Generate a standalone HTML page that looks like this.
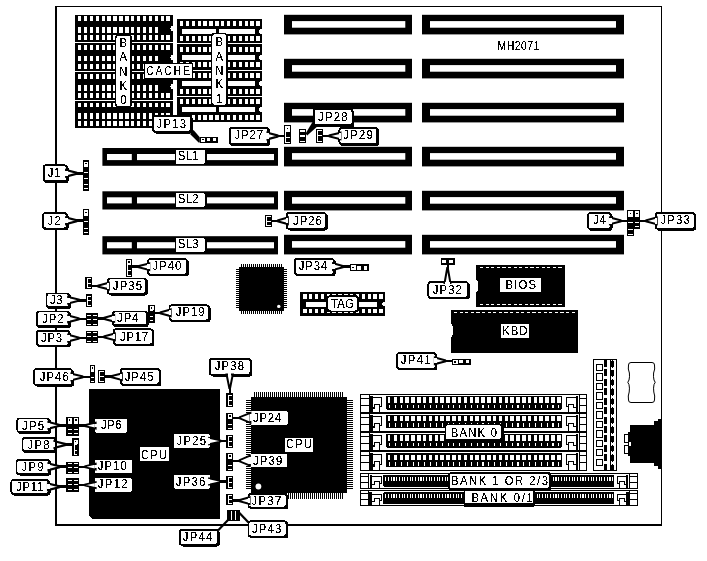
<!DOCTYPE html>
<html><head><meta charset="utf-8"><title>MH2071</title>
<style>html,body{margin:0;padding:0;background:#fff}svg{display:block}</style></head>
<body>
<svg width="707" height="561" viewBox="0 0 707 561" shape-rendering="crispEdges" font-family="'Liberation Sans', sans-serif" fill="#000">
<rect x="0.00" y="0.00" width="707.00" height="561.00" fill="#fff" />
<rect x="55.00" y="6.00" width="2.00" height="520.00" fill="#000" />
<rect x="55.00" y="6.00" width="607.00" height="1.00" fill="#000" />
<rect x="661.00" y="6.00" width="1.00" height="520.00" fill="#000" />
<rect x="55.00" y="524.00" width="607.00" height="2.00" fill="#000" />
<rect x="75.00" y="15.00" width="98.00" height="113.00" fill="#000" />
<rect x="75.00" y="42.00" width="98.00" height="1.00" fill="#fff" />
<rect x="75.00" y="71.00" width="98.00" height="1.00" fill="#fff" />
<rect x="75.00" y="100.00" width="98.00" height="1.00" fill="#fff" />
<rect x="77.90" y="16.00" width="3.40" height="5.00" fill="#fff" />
<rect x="83.80" y="16.00" width="3.40" height="5.00" fill="#fff" />
<rect x="89.70" y="16.00" width="3.40" height="5.00" fill="#fff" />
<rect x="95.60" y="16.00" width="3.40" height="5.00" fill="#fff" />
<rect x="101.50" y="16.00" width="3.40" height="5.00" fill="#fff" />
<rect x="107.40" y="16.00" width="3.40" height="5.00" fill="#fff" />
<rect x="113.30" y="16.00" width="3.40" height="5.00" fill="#fff" />
<rect x="119.20" y="16.00" width="3.40" height="5.00" fill="#fff" />
<rect x="125.10" y="16.00" width="3.40" height="5.00" fill="#fff" />
<rect x="131.00" y="16.00" width="3.40" height="5.00" fill="#fff" />
<rect x="136.90" y="16.00" width="3.40" height="5.00" fill="#fff" />
<rect x="142.80" y="16.00" width="3.40" height="5.00" fill="#fff" />
<rect x="148.70" y="16.00" width="3.40" height="5.00" fill="#fff" />
<rect x="154.60" y="16.00" width="3.40" height="5.00" fill="#fff" />
<rect x="160.50" y="16.00" width="3.40" height="5.00" fill="#fff" />
<rect x="166.40" y="16.00" width="3.40" height="5.00" fill="#fff" />
<rect x="77.90" y="27.00" width="3.40" height="5.50" fill="#fff" />
<rect x="83.80" y="27.00" width="3.40" height="5.50" fill="#fff" />
<rect x="89.70" y="27.00" width="3.40" height="5.50" fill="#fff" />
<rect x="95.60" y="27.00" width="3.40" height="5.50" fill="#fff" />
<rect x="101.50" y="27.00" width="3.40" height="5.50" fill="#fff" />
<rect x="107.40" y="27.00" width="3.40" height="5.50" fill="#fff" />
<rect x="113.30" y="27.00" width="3.40" height="5.50" fill="#fff" />
<rect x="119.20" y="27.00" width="3.40" height="5.50" fill="#fff" />
<rect x="125.10" y="27.00" width="3.40" height="5.50" fill="#fff" />
<rect x="131.00" y="27.00" width="3.40" height="5.50" fill="#fff" />
<rect x="136.90" y="27.00" width="3.40" height="5.50" fill="#fff" />
<rect x="142.80" y="27.00" width="3.40" height="5.50" fill="#fff" />
<rect x="148.70" y="27.00" width="3.40" height="5.50" fill="#fff" />
<rect x="154.60" y="27.00" width="3.40" height="5.50" fill="#fff" />
<rect x="77.90" y="35.00" width="3.40" height="5.00" fill="#fff" />
<rect x="83.80" y="35.00" width="3.40" height="5.00" fill="#fff" />
<rect x="89.70" y="35.00" width="3.40" height="5.00" fill="#fff" />
<rect x="95.60" y="35.00" width="3.40" height="5.00" fill="#fff" />
<rect x="101.50" y="35.00" width="3.40" height="5.00" fill="#fff" />
<rect x="107.40" y="35.00" width="3.40" height="5.00" fill="#fff" />
<rect x="113.30" y="35.00" width="3.40" height="5.00" fill="#fff" />
<rect x="119.20" y="35.00" width="3.40" height="5.00" fill="#fff" />
<rect x="125.10" y="35.00" width="3.40" height="5.00" fill="#fff" />
<rect x="131.00" y="35.00" width="3.40" height="5.00" fill="#fff" />
<rect x="136.90" y="35.00" width="3.40" height="5.00" fill="#fff" />
<rect x="142.80" y="35.00" width="3.40" height="5.00" fill="#fff" />
<rect x="148.70" y="35.00" width="3.40" height="5.00" fill="#fff" />
<rect x="154.60" y="35.00" width="3.40" height="5.00" fill="#fff" />
<rect x="160.50" y="35.00" width="3.40" height="5.00" fill="#fff" />
<rect x="166.40" y="35.00" width="3.40" height="5.00" fill="#fff" />
<rect x="77.90" y="45.00" width="3.40" height="5.00" fill="#fff" />
<rect x="83.80" y="45.00" width="3.40" height="5.00" fill="#fff" />
<rect x="89.70" y="45.00" width="3.40" height="5.00" fill="#fff" />
<rect x="95.60" y="45.00" width="3.40" height="5.00" fill="#fff" />
<rect x="101.50" y="45.00" width="3.40" height="5.00" fill="#fff" />
<rect x="107.40" y="45.00" width="3.40" height="5.00" fill="#fff" />
<rect x="113.30" y="45.00" width="3.40" height="5.00" fill="#fff" />
<rect x="119.20" y="45.00" width="3.40" height="5.00" fill="#fff" />
<rect x="125.10" y="45.00" width="3.40" height="5.00" fill="#fff" />
<rect x="131.00" y="45.00" width="3.40" height="5.00" fill="#fff" />
<rect x="136.90" y="45.00" width="3.40" height="5.00" fill="#fff" />
<rect x="142.80" y="45.00" width="3.40" height="5.00" fill="#fff" />
<rect x="148.70" y="45.00" width="3.40" height="5.00" fill="#fff" />
<rect x="154.60" y="45.00" width="3.40" height="5.00" fill="#fff" />
<rect x="160.50" y="45.00" width="3.40" height="5.00" fill="#fff" />
<rect x="166.40" y="45.00" width="3.40" height="5.00" fill="#fff" />
<rect x="77.90" y="56.00" width="3.40" height="5.00" fill="#fff" />
<rect x="83.80" y="56.00" width="3.40" height="5.00" fill="#fff" />
<rect x="89.70" y="56.00" width="3.40" height="5.00" fill="#fff" />
<rect x="95.60" y="56.00" width="3.40" height="5.00" fill="#fff" />
<rect x="101.50" y="56.00" width="3.40" height="5.00" fill="#fff" />
<rect x="107.40" y="56.00" width="3.40" height="5.00" fill="#fff" />
<rect x="113.30" y="56.00" width="3.40" height="5.00" fill="#fff" />
<rect x="119.20" y="56.00" width="3.40" height="5.00" fill="#fff" />
<rect x="125.10" y="56.00" width="3.40" height="5.00" fill="#fff" />
<rect x="131.00" y="56.00" width="3.40" height="5.00" fill="#fff" />
<rect x="136.90" y="56.00" width="3.40" height="5.00" fill="#fff" />
<rect x="142.80" y="56.00" width="3.40" height="5.00" fill="#fff" />
<rect x="148.70" y="56.00" width="3.40" height="5.00" fill="#fff" />
<rect x="154.60" y="56.00" width="3.40" height="5.00" fill="#fff" />
<rect x="77.90" y="64.00" width="3.40" height="5.00" fill="#fff" />
<rect x="83.80" y="64.00" width="3.40" height="5.00" fill="#fff" />
<rect x="89.70" y="64.00" width="3.40" height="5.00" fill="#fff" />
<rect x="95.60" y="64.00" width="3.40" height="5.00" fill="#fff" />
<rect x="101.50" y="64.00" width="3.40" height="5.00" fill="#fff" />
<rect x="107.40" y="64.00" width="3.40" height="5.00" fill="#fff" />
<rect x="113.30" y="64.00" width="3.40" height="5.00" fill="#fff" />
<rect x="119.20" y="64.00" width="3.40" height="5.00" fill="#fff" />
<rect x="125.10" y="64.00" width="3.40" height="5.00" fill="#fff" />
<rect x="131.00" y="64.00" width="3.40" height="5.00" fill="#fff" />
<rect x="136.90" y="64.00" width="3.40" height="5.00" fill="#fff" />
<rect x="142.80" y="64.00" width="3.40" height="5.00" fill="#fff" />
<rect x="148.70" y="64.00" width="3.40" height="5.00" fill="#fff" />
<rect x="154.60" y="64.00" width="3.40" height="5.00" fill="#fff" />
<rect x="160.50" y="64.00" width="3.40" height="5.00" fill="#fff" />
<rect x="166.40" y="64.00" width="3.40" height="5.00" fill="#fff" />
<rect x="77.90" y="74.00" width="3.40" height="5.00" fill="#fff" />
<rect x="83.80" y="74.00" width="3.40" height="5.00" fill="#fff" />
<rect x="89.70" y="74.00" width="3.40" height="5.00" fill="#fff" />
<rect x="95.60" y="74.00" width="3.40" height="5.00" fill="#fff" />
<rect x="101.50" y="74.00" width="3.40" height="5.00" fill="#fff" />
<rect x="107.40" y="74.00" width="3.40" height="5.00" fill="#fff" />
<rect x="113.30" y="74.00" width="3.40" height="5.00" fill="#fff" />
<rect x="119.20" y="74.00" width="3.40" height="5.00" fill="#fff" />
<rect x="125.10" y="74.00" width="3.40" height="5.00" fill="#fff" />
<rect x="131.00" y="74.00" width="3.40" height="5.00" fill="#fff" />
<rect x="136.90" y="74.00" width="3.40" height="5.00" fill="#fff" />
<rect x="142.80" y="74.00" width="3.40" height="5.00" fill="#fff" />
<rect x="148.70" y="74.00" width="3.40" height="5.00" fill="#fff" />
<rect x="154.60" y="74.00" width="3.40" height="5.00" fill="#fff" />
<rect x="160.50" y="74.00" width="3.40" height="5.00" fill="#fff" />
<rect x="166.40" y="74.00" width="3.40" height="5.00" fill="#fff" />
<rect x="77.90" y="85.00" width="3.40" height="5.50" fill="#fff" />
<rect x="83.80" y="85.00" width="3.40" height="5.50" fill="#fff" />
<rect x="89.70" y="85.00" width="3.40" height="5.50" fill="#fff" />
<rect x="95.60" y="85.00" width="3.40" height="5.50" fill="#fff" />
<rect x="101.50" y="85.00" width="3.40" height="5.50" fill="#fff" />
<rect x="107.40" y="85.00" width="3.40" height="5.50" fill="#fff" />
<rect x="113.30" y="85.00" width="3.40" height="5.50" fill="#fff" />
<rect x="119.20" y="85.00" width="3.40" height="5.50" fill="#fff" />
<rect x="125.10" y="85.00" width="3.40" height="5.50" fill="#fff" />
<rect x="131.00" y="85.00" width="3.40" height="5.50" fill="#fff" />
<rect x="136.90" y="85.00" width="3.40" height="5.50" fill="#fff" />
<rect x="142.80" y="85.00" width="3.40" height="5.50" fill="#fff" />
<rect x="148.70" y="85.00" width="3.40" height="5.50" fill="#fff" />
<rect x="154.60" y="85.00" width="3.40" height="5.50" fill="#fff" />
<rect x="77.90" y="93.00" width="3.40" height="5.00" fill="#fff" />
<rect x="83.80" y="93.00" width="3.40" height="5.00" fill="#fff" />
<rect x="89.70" y="93.00" width="3.40" height="5.00" fill="#fff" />
<rect x="95.60" y="93.00" width="3.40" height="5.00" fill="#fff" />
<rect x="101.50" y="93.00" width="3.40" height="5.00" fill="#fff" />
<rect x="107.40" y="93.00" width="3.40" height="5.00" fill="#fff" />
<rect x="113.30" y="93.00" width="3.40" height="5.00" fill="#fff" />
<rect x="119.20" y="93.00" width="3.40" height="5.00" fill="#fff" />
<rect x="125.10" y="93.00" width="3.40" height="5.00" fill="#fff" />
<rect x="131.00" y="93.00" width="3.40" height="5.00" fill="#fff" />
<rect x="136.90" y="93.00" width="3.40" height="5.00" fill="#fff" />
<rect x="142.80" y="93.00" width="3.40" height="5.00" fill="#fff" />
<rect x="148.70" y="93.00" width="3.40" height="5.00" fill="#fff" />
<rect x="154.60" y="93.00" width="3.40" height="5.00" fill="#fff" />
<rect x="160.50" y="93.00" width="3.40" height="5.00" fill="#fff" />
<rect x="166.40" y="93.00" width="3.40" height="5.00" fill="#fff" />
<rect x="77.90" y="102.50" width="3.40" height="4.50" fill="#fff" />
<rect x="83.80" y="102.50" width="3.40" height="4.50" fill="#fff" />
<rect x="89.70" y="102.50" width="3.40" height="4.50" fill="#fff" />
<rect x="95.60" y="102.50" width="3.40" height="4.50" fill="#fff" />
<rect x="101.50" y="102.50" width="3.40" height="4.50" fill="#fff" />
<rect x="107.40" y="102.50" width="3.40" height="4.50" fill="#fff" />
<rect x="113.30" y="102.50" width="3.40" height="4.50" fill="#fff" />
<rect x="119.20" y="102.50" width="3.40" height="4.50" fill="#fff" />
<rect x="125.10" y="102.50" width="3.40" height="4.50" fill="#fff" />
<rect x="131.00" y="102.50" width="3.40" height="4.50" fill="#fff" />
<rect x="136.90" y="102.50" width="3.40" height="4.50" fill="#fff" />
<rect x="142.80" y="102.50" width="3.40" height="4.50" fill="#fff" />
<rect x="148.70" y="102.50" width="3.40" height="4.50" fill="#fff" />
<rect x="154.60" y="102.50" width="3.40" height="4.50" fill="#fff" />
<rect x="160.50" y="102.50" width="3.40" height="4.50" fill="#fff" />
<rect x="166.40" y="102.50" width="3.40" height="4.50" fill="#fff" />
<rect x="77.90" y="113.00" width="3.40" height="5.50" fill="#fff" />
<rect x="83.80" y="113.00" width="3.40" height="5.50" fill="#fff" />
<rect x="89.70" y="113.00" width="3.40" height="5.50" fill="#fff" />
<rect x="95.60" y="113.00" width="3.40" height="5.50" fill="#fff" />
<rect x="101.50" y="113.00" width="3.40" height="5.50" fill="#fff" />
<rect x="107.40" y="113.00" width="3.40" height="5.50" fill="#fff" />
<rect x="113.30" y="113.00" width="3.40" height="5.50" fill="#fff" />
<rect x="119.20" y="113.00" width="3.40" height="5.50" fill="#fff" />
<rect x="125.10" y="113.00" width="3.40" height="5.50" fill="#fff" />
<rect x="131.00" y="113.00" width="3.40" height="5.50" fill="#fff" />
<rect x="136.90" y="113.00" width="3.40" height="5.50" fill="#fff" />
<rect x="142.80" y="113.00" width="3.40" height="5.50" fill="#fff" />
<rect x="148.70" y="113.00" width="3.40" height="5.50" fill="#fff" />
<rect x="154.60" y="113.00" width="3.40" height="5.50" fill="#fff" />
<rect x="160.50" y="113.00" width="3.40" height="5.50" fill="#fff" />
<rect x="166.40" y="113.00" width="3.40" height="5.50" fill="#fff" />
<rect x="77.90" y="121.00" width="3.40" height="5.00" fill="#fff" />
<rect x="83.80" y="121.00" width="3.40" height="5.00" fill="#fff" />
<rect x="89.70" y="121.00" width="3.40" height="5.00" fill="#fff" />
<rect x="95.60" y="121.00" width="3.40" height="5.00" fill="#fff" />
<rect x="101.50" y="121.00" width="3.40" height="5.00" fill="#fff" />
<rect x="107.40" y="121.00" width="3.40" height="5.00" fill="#fff" />
<rect x="113.30" y="121.00" width="3.40" height="5.00" fill="#fff" />
<rect x="119.20" y="121.00" width="3.40" height="5.00" fill="#fff" />
<rect x="125.10" y="121.00" width="3.40" height="5.00" fill="#fff" />
<rect x="131.00" y="121.00" width="3.40" height="5.00" fill="#fff" />
<rect x="136.90" y="121.00" width="3.40" height="5.00" fill="#fff" />
<rect x="142.80" y="121.00" width="3.40" height="5.00" fill="#fff" />
<rect x="148.70" y="121.00" width="3.40" height="5.00" fill="#fff" />
<rect x="154.60" y="121.00" width="3.40" height="5.00" fill="#fff" />
<rect x="160.50" y="121.00" width="3.40" height="5.00" fill="#fff" />
<rect x="166.40" y="121.00" width="3.40" height="5.00" fill="#fff" />
<ellipse cx="173" cy="28.5" rx="2.6" ry="3" fill="#fff"/>
<ellipse cx="173" cy="57.5" rx="2.6" ry="3" fill="#fff"/>
<ellipse cx="173" cy="86.5" rx="2.6" ry="3" fill="#fff"/>
<rect x="177.00" y="19.00" width="85.00" height="103.00" fill="#000" />
<rect x="177.00" y="43.00" width="85.00" height="1.00" fill="#fff" />
<rect x="177.00" y="69.50" width="85.00" height="1.00" fill="#fff" />
<rect x="177.00" y="96.00" width="85.00" height="1.00" fill="#fff" />
<rect x="180.00" y="21.00" width="3.40" height="5.00" fill="#fff" />
<rect x="180.00" y="36.00" width="3.40" height="5.00" fill="#fff" />
<rect x="185.87" y="21.00" width="3.40" height="5.00" fill="#fff" />
<rect x="185.87" y="36.00" width="3.40" height="5.00" fill="#fff" />
<rect x="191.74" y="21.00" width="3.40" height="5.00" fill="#fff" />
<rect x="191.74" y="36.00" width="3.40" height="5.00" fill="#fff" />
<rect x="197.61" y="21.00" width="3.40" height="5.00" fill="#fff" />
<rect x="197.61" y="36.00" width="3.40" height="5.00" fill="#fff" />
<rect x="203.48" y="21.00" width="3.40" height="5.00" fill="#fff" />
<rect x="203.48" y="36.00" width="3.40" height="5.00" fill="#fff" />
<rect x="209.35" y="21.00" width="3.40" height="5.00" fill="#fff" />
<rect x="209.35" y="36.00" width="3.40" height="5.00" fill="#fff" />
<rect x="215.22" y="21.00" width="3.40" height="5.00" fill="#fff" />
<rect x="215.22" y="36.00" width="3.40" height="5.00" fill="#fff" />
<rect x="221.09" y="21.00" width="3.40" height="5.00" fill="#fff" />
<rect x="221.09" y="36.00" width="3.40" height="5.00" fill="#fff" />
<rect x="226.96" y="21.00" width="3.40" height="5.00" fill="#fff" />
<rect x="226.96" y="36.00" width="3.40" height="5.00" fill="#fff" />
<rect x="232.83" y="21.00" width="3.40" height="5.00" fill="#fff" />
<rect x="232.83" y="36.00" width="3.40" height="5.00" fill="#fff" />
<rect x="238.70" y="21.00" width="3.40" height="5.00" fill="#fff" />
<rect x="238.70" y="36.00" width="3.40" height="5.00" fill="#fff" />
<rect x="244.57" y="21.00" width="3.40" height="5.00" fill="#fff" />
<rect x="244.57" y="36.00" width="3.40" height="5.00" fill="#fff" />
<rect x="250.44" y="21.00" width="3.40" height="5.00" fill="#fff" />
<rect x="250.44" y="36.00" width="3.40" height="5.00" fill="#fff" />
<rect x="256.31" y="21.00" width="3.40" height="5.00" fill="#fff" />
<rect x="256.31" y="36.00" width="3.40" height="5.00" fill="#fff" />
<rect x="181.70" y="29.00" width="73.10" height="4.50" fill="#fff" />
<rect x="216.20" y="29.00" width="2.70" height="4.50" fill="#000" />
<ellipse cx="262" cy="31.2" rx="3" ry="2.6" fill="#fff"/>
<rect x="180.00" y="47.00" width="3.40" height="5.00" fill="#fff" />
<rect x="180.00" y="62.00" width="3.40" height="5.00" fill="#fff" />
<rect x="185.87" y="47.00" width="3.40" height="5.00" fill="#fff" />
<rect x="185.87" y="62.00" width="3.40" height="5.00" fill="#fff" />
<rect x="191.74" y="47.00" width="3.40" height="5.00" fill="#fff" />
<rect x="191.74" y="62.00" width="3.40" height="5.00" fill="#fff" />
<rect x="197.61" y="47.00" width="3.40" height="5.00" fill="#fff" />
<rect x="197.61" y="62.00" width="3.40" height="5.00" fill="#fff" />
<rect x="203.48" y="47.00" width="3.40" height="5.00" fill="#fff" />
<rect x="203.48" y="62.00" width="3.40" height="5.00" fill="#fff" />
<rect x="209.35" y="47.00" width="3.40" height="5.00" fill="#fff" />
<rect x="209.35" y="62.00" width="3.40" height="5.00" fill="#fff" />
<rect x="215.22" y="47.00" width="3.40" height="5.00" fill="#fff" />
<rect x="215.22" y="62.00" width="3.40" height="5.00" fill="#fff" />
<rect x="221.09" y="47.00" width="3.40" height="5.00" fill="#fff" />
<rect x="221.09" y="62.00" width="3.40" height="5.00" fill="#fff" />
<rect x="226.96" y="47.00" width="3.40" height="5.00" fill="#fff" />
<rect x="226.96" y="62.00" width="3.40" height="5.00" fill="#fff" />
<rect x="232.83" y="47.00" width="3.40" height="5.00" fill="#fff" />
<rect x="232.83" y="62.00" width="3.40" height="5.00" fill="#fff" />
<rect x="238.70" y="47.00" width="3.40" height="5.00" fill="#fff" />
<rect x="238.70" y="62.00" width="3.40" height="5.00" fill="#fff" />
<rect x="244.57" y="47.00" width="3.40" height="5.00" fill="#fff" />
<rect x="244.57" y="62.00" width="3.40" height="5.00" fill="#fff" />
<rect x="250.44" y="47.00" width="3.40" height="5.00" fill="#fff" />
<rect x="250.44" y="62.00" width="3.40" height="5.00" fill="#fff" />
<rect x="256.31" y="47.00" width="3.40" height="5.00" fill="#fff" />
<rect x="256.31" y="62.00" width="3.40" height="5.00" fill="#fff" />
<rect x="181.70" y="55.00" width="73.10" height="4.50" fill="#fff" />
<rect x="216.20" y="55.00" width="2.70" height="4.50" fill="#000" />
<ellipse cx="262" cy="57.2" rx="3" ry="2.6" fill="#fff"/>
<rect x="180.00" y="73.30" width="3.40" height="5.00" fill="#fff" />
<rect x="180.00" y="88.80" width="3.40" height="5.00" fill="#fff" />
<rect x="185.87" y="73.30" width="3.40" height="5.00" fill="#fff" />
<rect x="185.87" y="88.80" width="3.40" height="5.00" fill="#fff" />
<rect x="191.74" y="73.30" width="3.40" height="5.00" fill="#fff" />
<rect x="191.74" y="88.80" width="3.40" height="5.00" fill="#fff" />
<rect x="197.61" y="73.30" width="3.40" height="5.00" fill="#fff" />
<rect x="197.61" y="88.80" width="3.40" height="5.00" fill="#fff" />
<rect x="203.48" y="73.30" width="3.40" height="5.00" fill="#fff" />
<rect x="203.48" y="88.80" width="3.40" height="5.00" fill="#fff" />
<rect x="209.35" y="73.30" width="3.40" height="5.00" fill="#fff" />
<rect x="209.35" y="88.80" width="3.40" height="5.00" fill="#fff" />
<rect x="215.22" y="73.30" width="3.40" height="5.00" fill="#fff" />
<rect x="215.22" y="88.80" width="3.40" height="5.00" fill="#fff" />
<rect x="221.09" y="73.30" width="3.40" height="5.00" fill="#fff" />
<rect x="221.09" y="88.80" width="3.40" height="5.00" fill="#fff" />
<rect x="226.96" y="73.30" width="3.40" height="5.00" fill="#fff" />
<rect x="226.96" y="88.80" width="3.40" height="5.00" fill="#fff" />
<rect x="232.83" y="73.30" width="3.40" height="5.00" fill="#fff" />
<rect x="232.83" y="88.80" width="3.40" height="5.00" fill="#fff" />
<rect x="238.70" y="73.30" width="3.40" height="5.00" fill="#fff" />
<rect x="238.70" y="88.80" width="3.40" height="5.00" fill="#fff" />
<rect x="244.57" y="73.30" width="3.40" height="5.00" fill="#fff" />
<rect x="244.57" y="88.80" width="3.40" height="5.00" fill="#fff" />
<rect x="250.44" y="73.30" width="3.40" height="5.00" fill="#fff" />
<rect x="250.44" y="88.80" width="3.40" height="5.00" fill="#fff" />
<rect x="256.31" y="73.30" width="3.40" height="5.00" fill="#fff" />
<rect x="256.31" y="88.80" width="3.40" height="5.00" fill="#fff" />
<rect x="181.70" y="81.20" width="73.10" height="4.50" fill="#fff" />
<rect x="216.20" y="81.20" width="2.70" height="4.50" fill="#000" />
<ellipse cx="262" cy="83.4" rx="3" ry="2.6" fill="#fff"/>
<rect x="180.00" y="99.00" width="3.40" height="5.00" fill="#fff" />
<rect x="180.00" y="115.00" width="3.40" height="5.00" fill="#fff" />
<rect x="185.87" y="99.00" width="3.40" height="5.00" fill="#fff" />
<rect x="185.87" y="115.00" width="3.40" height="5.00" fill="#fff" />
<rect x="191.74" y="99.00" width="3.40" height="5.00" fill="#fff" />
<rect x="191.74" y="115.00" width="3.40" height="5.00" fill="#fff" />
<rect x="197.61" y="99.00" width="3.40" height="5.00" fill="#fff" />
<rect x="197.61" y="115.00" width="3.40" height="5.00" fill="#fff" />
<rect x="203.48" y="99.00" width="3.40" height="5.00" fill="#fff" />
<rect x="203.48" y="115.00" width="3.40" height="5.00" fill="#fff" />
<rect x="209.35" y="99.00" width="3.40" height="5.00" fill="#fff" />
<rect x="209.35" y="115.00" width="3.40" height="5.00" fill="#fff" />
<rect x="215.22" y="99.00" width="3.40" height="5.00" fill="#fff" />
<rect x="215.22" y="115.00" width="3.40" height="5.00" fill="#fff" />
<rect x="221.09" y="99.00" width="3.40" height="5.00" fill="#fff" />
<rect x="221.09" y="115.00" width="3.40" height="5.00" fill="#fff" />
<rect x="226.96" y="99.00" width="3.40" height="5.00" fill="#fff" />
<rect x="226.96" y="115.00" width="3.40" height="5.00" fill="#fff" />
<rect x="232.83" y="99.00" width="3.40" height="5.00" fill="#fff" />
<rect x="232.83" y="115.00" width="3.40" height="5.00" fill="#fff" />
<rect x="238.70" y="99.00" width="3.40" height="5.00" fill="#fff" />
<rect x="238.70" y="115.00" width="3.40" height="5.00" fill="#fff" />
<rect x="244.57" y="99.00" width="3.40" height="5.00" fill="#fff" />
<rect x="244.57" y="115.00" width="3.40" height="5.00" fill="#fff" />
<rect x="250.44" y="99.00" width="3.40" height="5.00" fill="#fff" />
<rect x="250.44" y="115.00" width="3.40" height="5.00" fill="#fff" />
<rect x="256.31" y="99.00" width="3.40" height="5.00" fill="#fff" />
<rect x="256.31" y="115.00" width="3.40" height="5.00" fill="#fff" />
<rect x="181.70" y="107.30" width="73.10" height="4.50" fill="#fff" />
<rect x="216.20" y="107.30" width="2.70" height="4.50" fill="#000" />
<ellipse cx="262" cy="109.5" rx="3" ry="2.6" fill="#fff"/>
<rect x="115.6" y="35" width="15.4" height="72" rx="3" fill="#fff" stroke="#000" stroke-width="1.5"/>
<rect x="211.6" y="33.5" width="15.4" height="72" rx="3" fill="#fff" stroke="#000" stroke-width="1.5"/>
<rect x="143.50" y="62.50" width="49.50" height="17.10" fill="#000" />
<rect x="145.00" y="64.00" width="46.50" height="14.00" fill="#fff" />
<rect x="284.00" y="14.80" width="128.00" height="19.60" fill="#000" shape-rendering="auto"/>
<rect x="292.00" y="21.10" width="113.30" height="6.60" fill="#fff" shape-rendering="auto"/>
<rect x="422.00" y="14.80" width="202.00" height="19.60" fill="#000" shape-rendering="auto"/>
<rect x="430.00" y="21.10" width="186.00" height="6.60" fill="#fff" shape-rendering="auto"/>
<rect x="284.00" y="58.80" width="128.00" height="19.60" fill="#000" shape-rendering="auto"/>
<rect x="292.00" y="65.10" width="113.30" height="6.60" fill="#fff" shape-rendering="auto"/>
<rect x="422.00" y="58.80" width="202.00" height="19.60" fill="#000" shape-rendering="auto"/>
<rect x="430.00" y="65.10" width="186.00" height="6.60" fill="#fff" shape-rendering="auto"/>
<rect x="284.00" y="102.80" width="128.00" height="19.60" fill="#000" shape-rendering="auto"/>
<rect x="292.00" y="109.10" width="113.30" height="6.60" fill="#fff" shape-rendering="auto"/>
<rect x="422.00" y="102.80" width="202.00" height="19.60" fill="#000" shape-rendering="auto"/>
<rect x="430.00" y="109.10" width="186.00" height="6.60" fill="#fff" shape-rendering="auto"/>
<rect x="284.00" y="146.80" width="128.00" height="19.60" fill="#000" shape-rendering="auto"/>
<rect x="292.00" y="153.10" width="113.30" height="6.60" fill="#fff" shape-rendering="auto"/>
<rect x="422.00" y="146.80" width="202.00" height="19.60" fill="#000" shape-rendering="auto"/>
<rect x="430.00" y="153.10" width="186.00" height="6.60" fill="#fff" shape-rendering="auto"/>
<rect x="284.00" y="190.80" width="128.00" height="19.60" fill="#000" shape-rendering="auto"/>
<rect x="292.00" y="197.10" width="113.30" height="6.60" fill="#fff" shape-rendering="auto"/>
<rect x="422.00" y="190.80" width="202.00" height="19.60" fill="#000" shape-rendering="auto"/>
<rect x="430.00" y="197.10" width="186.00" height="6.60" fill="#fff" shape-rendering="auto"/>
<rect x="284.00" y="234.80" width="128.00" height="19.60" fill="#000" shape-rendering="auto"/>
<rect x="292.00" y="241.10" width="113.30" height="6.60" fill="#fff" shape-rendering="auto"/>
<rect x="422.00" y="234.80" width="202.00" height="19.60" fill="#000" shape-rendering="auto"/>
<rect x="430.00" y="241.10" width="186.00" height="6.60" fill="#fff" shape-rendering="auto"/>
<rect x="102.40" y="148.00" width="175.60" height="17.80" fill="#000" shape-rendering="auto"/>
<rect x="107.00" y="154.00" width="24.80" height="6.10" fill="#fff" shape-rendering="auto"/>
<rect x="137.00" y="154.00" width="137.00" height="6.10" fill="#fff" shape-rendering="auto"/>
<rect x="174.5" y="148.5" width="32" height="16.5" fill="#000"/>
<rect x="175.6" y="149.5" width="29.4" height="14.5" rx="2.5" fill="#fff"/>
<rect x="102.40" y="191.30" width="175.60" height="18.20" fill="#000" shape-rendering="auto"/>
<rect x="107.00" y="197.30" width="24.80" height="6.10" fill="#fff" shape-rendering="auto"/>
<rect x="137.00" y="197.30" width="137.00" height="6.10" fill="#fff" shape-rendering="auto"/>
<rect x="174.5" y="191.8" width="32" height="16.5" fill="#000"/>
<rect x="175.6" y="192.8" width="29.4" height="14.5" rx="2.5" fill="#fff"/>
<rect x="102.40" y="236.20" width="175.60" height="18.20" fill="#000" shape-rendering="auto"/>
<rect x="107.00" y="242.20" width="24.80" height="6.10" fill="#fff" shape-rendering="auto"/>
<rect x="137.00" y="242.20" width="137.00" height="6.10" fill="#fff" shape-rendering="auto"/>
<rect x="174.5" y="236.7" width="32" height="16.5" fill="#000"/>
<rect x="175.6" y="237.7" width="29.4" height="14.5" rx="2.5" fill="#fff"/>
<polygon points="190,134 193.5,130 199.8,137.3 199.8,142.6 198.6,142.6" fill="#000" shape-rendering="auto"/>
<rect x="153.70" y="116.80" width="39.10" height="16.70" rx="2.5" fill="#000"/>
<rect x="153.10" y="116.20" width="37.90" height="15.50" rx="2.5" fill="#fff" stroke="#000" stroke-width="1.8"/>
<rect x="199.50" y="136.50" width="18.50" height="6.00" fill="#000" />
<rect x="200.50" y="137.50" width="4.67" height="4.00" fill="#fff" />
<rect x="201.98" y="138.70" width="1.60" height="1.60" fill="#000" />
<rect x="206.87" y="138.00" width="3.37" height="3.00" fill="#fff" />
<rect x="213.03" y="138.00" width="3.37" height="3.00" fill="#fff" />
<rect x="284.00" y="125.00" width="7.00" height="19.00" fill="#000" />
<rect x="285.20" y="126.20" width="4.60" height="1.00" fill="#fff" />
<rect x="285.20" y="130.83" width="4.60" height="1.00" fill="#fff" />
<rect x="285.20" y="137.17" width="4.60" height="1.00" fill="#fff" />
<rect x="285.20" y="141.80" width="4.60" height="1.00" fill="#fff" />
<rect x="285.20" y="126.20" width="1.00" height="16.60" fill="#fff" />
<rect x="285.20" y="126.20" width="4.80" height="4.93" fill="#fff" />
<rect x="286.60" y="127.57" width="1.80" height="1.60" fill="#000" />
<rect x="230.50" y="128.50" width="39.50" height="17.50" rx="2.5" fill="#000"/>
<rect x="229.90" y="127.90" width="38.30" height="16.30" rx="2.5" fill="#fff" stroke="#000" stroke-width="1.8"/>
<polygon points="267.50,132.70 277.41,135.40 277.41,136.60 267.50,139.30" fill="#fff" stroke="#000" stroke-width="2.1" stroke-linejoin="miter" shape-rendering="auto"/>
<line x1="275.91" y1="136.00" x2="284.50" y2="136.00" stroke="#000" stroke-width="2.6" />
<rect x="266.40" y="133.40" width="3.00" height="5.20" fill="#fff" />
<polygon points="312.8,121.5 317,126.8 307.2,135.4 305.6,133.6" fill="#000" shape-rendering="auto"/>
<rect x="314.20" y="110.00" width="40.00" height="17.10" rx="2.5" fill="#000"/>
<rect x="313.60" y="109.40" width="38.80" height="15.90" rx="2.5" fill="#fff" stroke="#000" stroke-width="1.8"/>
<rect x="299.00" y="129.00" width="6.90" height="13.70" fill="#000" />
<rect x="300.20" y="130.40" width="4.50" height="1.10" fill="#fff" />
<rect x="300.20" y="135.40" width="4.50" height="1.10" fill="#fff" />
<rect x="300.20" y="140.60" width="4.50" height="1.10" fill="#fff" />
<rect x="316.00" y="129.00" width="6.80" height="13.70" fill="#000" />
<rect x="317.20" y="130.20" width="4.40" height="1.00" fill="#fff" />
<rect x="317.20" y="135.35" width="4.40" height="1.00" fill="#fff" />
<rect x="317.20" y="140.50" width="4.40" height="1.00" fill="#fff" />
<rect x="317.20" y="130.20" width="1.00" height="11.30" fill="#fff" />
<rect x="339.90" y="128.60" width="39.20" height="17.20" rx="2.5" fill="#000"/>
<rect x="339.30" y="128.00" width="38.00" height="16.00" rx="2.5" fill="#fff" stroke="#000" stroke-width="1.8"/>
<polygon points="340.40,132.65 329.68,135.35 329.68,136.55 340.40,139.25" fill="#fff" stroke="#000" stroke-width="2.1" stroke-linejoin="miter" shape-rendering="auto"/>
<line x1="331.18" y1="135.95" x2="322.50" y2="135.95" stroke="#000" stroke-width="2.6" />
<rect x="338.60" y="133.35" width="2.20" height="5.20" fill="#fff" />
<rect x="83.20" y="160.30" width="6.00" height="30.30" fill="#000" />
<rect x="84.40" y="161.50" width="3.60" height="1.00" fill="#fff" />
<rect x="84.40" y="165.86" width="3.60" height="1.00" fill="#fff" />
<rect x="84.40" y="171.92" width="3.60" height="1.00" fill="#fff" />
<rect x="84.40" y="177.98" width="3.60" height="1.00" fill="#fff" />
<rect x="84.40" y="184.04" width="3.60" height="1.00" fill="#fff" />
<rect x="84.40" y="188.40" width="3.60" height="1.00" fill="#fff" />
<rect x="84.40" y="161.50" width="3.80" height="4.66" fill="#fff" />
<rect x="85.30" y="162.73" width="1.80" height="1.60" fill="#000" />
<rect x="44.30" y="165.90" width="24.30" height="17.20" rx="2.5" fill="#000"/>
<rect x="43.70" y="165.30" width="23.10" height="16.00" rx="2.5" fill="#fff" stroke="#000" stroke-width="1.8"/>
<polygon points="66.10,169.95 76.24,172.65 76.24,173.85 66.10,176.55" fill="#fff" stroke="#000" stroke-width="2.1" stroke-linejoin="miter" shape-rendering="auto"/>
<line x1="74.74" y1="173.25" x2="83.50" y2="173.25" stroke="#000" stroke-width="2.6" />
<rect x="65.00" y="170.65" width="3.00" height="5.20" fill="#fff" />
<rect x="83.20" y="209.20" width="6.00" height="25.40" fill="#000" />
<rect x="84.40" y="210.40" width="3.60" height="1.00" fill="#fff" />
<rect x="84.40" y="215.05" width="3.60" height="1.00" fill="#fff" />
<rect x="84.40" y="221.40" width="3.60" height="1.00" fill="#fff" />
<rect x="84.40" y="227.75" width="3.60" height="1.00" fill="#fff" />
<rect x="84.40" y="232.40" width="3.60" height="1.00" fill="#fff" />
<rect x="84.40" y="210.40" width="3.80" height="4.95" fill="#fff" />
<rect x="85.30" y="211.78" width="1.80" height="1.60" fill="#000" />
<rect x="43.70" y="213.80" width="24.90" height="16.40" rx="2.5" fill="#000"/>
<rect x="43.10" y="213.20" width="23.70" height="15.20" rx="2.5" fill="#fff" stroke="#000" stroke-width="1.8"/>
<polygon points="66.10,217.45 76.24,220.15 76.24,221.35 66.10,224.05" fill="#fff" stroke="#000" stroke-width="2.1" stroke-linejoin="miter" shape-rendering="auto"/>
<line x1="74.74" y1="220.75" x2="83.50" y2="220.75" stroke="#000" stroke-width="2.6" />
<rect x="65.00" y="218.15" width="3.00" height="5.20" fill="#fff" />
<rect x="264.90" y="214.80" width="7.20" height="12.60" fill="#000" />
<rect x="266.10" y="216.00" width="4.80" height="1.00" fill="#fff" />
<rect x="266.10" y="220.60" width="4.80" height="1.00" fill="#fff" />
<rect x="266.10" y="225.20" width="4.80" height="1.00" fill="#fff" />
<rect x="266.10" y="216.00" width="1.00" height="10.20" fill="#fff" />
<rect x="287.30" y="213.60" width="40.60" height="16.90" rx="2.5" fill="#000"/>
<rect x="286.70" y="213.00" width="39.40" height="15.70" rx="2.5" fill="#fff" stroke="#000" stroke-width="1.8"/>
<polygon points="287.80,217.50 278.18,220.20 278.18,221.40 287.80,224.10" fill="#fff" stroke="#000" stroke-width="2.1" stroke-linejoin="miter" shape-rendering="auto"/>
<line x1="279.68" y1="220.80" x2="271.80" y2="220.80" stroke="#000" stroke-width="2.6" />
<rect x="286.00" y="218.20" width="2.20" height="5.20" fill="#fff" />
<rect x="627.20" y="210.20" width="6.60" height="25.50" fill="#000" />
<rect x="628.40" y="211.40" width="4.20" height="1.00" fill="#fff" />
<rect x="628.40" y="216.07" width="4.20" height="1.00" fill="#fff" />
<rect x="628.40" y="222.45" width="4.20" height="1.00" fill="#fff" />
<rect x="628.40" y="228.82" width="4.20" height="1.00" fill="#fff" />
<rect x="628.40" y="233.50" width="4.20" height="1.00" fill="#fff" />
<rect x="628.40" y="211.40" width="4.40" height="4.98" fill="#fff" />
<rect x="629.60" y="212.79" width="1.80" height="1.60" fill="#000" />
<rect x="633.40" y="210.20" width="6.50" height="18.40" fill="#000" />
<rect x="634.60" y="211.40" width="4.10" height="1.00" fill="#fff" />
<rect x="634.60" y="215.83" width="4.10" height="1.00" fill="#fff" />
<rect x="634.60" y="221.97" width="4.10" height="1.00" fill="#fff" />
<rect x="634.60" y="226.40" width="4.10" height="1.00" fill="#fff" />
<rect x="634.60" y="211.40" width="4.30" height="4.73" fill="#fff" />
<rect x="635.75" y="212.67" width="1.80" height="1.60" fill="#000" />
<rect x="588.60" y="213.70" width="23.90" height="16.90" rx="2.5" fill="#000"/>
<rect x="588.00" y="213.10" width="22.70" height="15.70" rx="2.5" fill="#fff" stroke="#000" stroke-width="1.8"/>
<polygon points="610.00,217.60 620.49,220.30 620.49,221.50 610.00,224.20" fill="#fff" stroke="#000" stroke-width="2.1" stroke-linejoin="miter" shape-rendering="auto"/>
<line x1="618.99" y1="220.90" x2="628.00" y2="220.90" stroke="#000" stroke-width="2.6" />
<rect x="608.90" y="218.30" width="3.00" height="5.20" fill="#fff" />
<rect x="656.20" y="213.70" width="40.10" height="16.90" rx="2.5" fill="#000"/>
<rect x="655.60" y="213.10" width="38.90" height="15.70" rx="2.5" fill="#fff" stroke="#000" stroke-width="1.8"/>
<polygon points="656.70,217.60 646.38,220.30 646.38,221.50 656.70,224.20" fill="#fff" stroke="#000" stroke-width="2.1" stroke-linejoin="miter" shape-rendering="auto"/>
<line x1="647.88" y1="220.90" x2="639.50" y2="220.90" stroke="#000" stroke-width="2.6" />
<rect x="654.90" y="218.30" width="2.20" height="5.20" fill="#fff" />
<rect x="125.50" y="258.50" width="6.50" height="18.50" fill="#000" />
<rect x="126.70" y="259.70" width="4.10" height="1.00" fill="#fff" />
<rect x="126.70" y="264.17" width="4.10" height="1.00" fill="#fff" />
<rect x="126.70" y="270.33" width="4.10" height="1.00" fill="#fff" />
<rect x="126.70" y="274.80" width="4.10" height="1.00" fill="#fff" />
<rect x="126.70" y="259.70" width="1.00" height="16.10" fill="#fff" />
<rect x="126.70" y="259.70" width="4.30" height="4.77" fill="#fff" />
<rect x="127.85" y="260.98" width="1.80" height="1.60" fill="#000" />
<rect x="148.70" y="259.50" width="39.90" height="16.90" rx="2.5" fill="#000"/>
<rect x="148.10" y="258.90" width="38.70" height="15.70" rx="2.5" fill="#fff" stroke="#000" stroke-width="1.8"/>
<polygon points="149.20,263.40 138.59,266.10 138.59,267.30 149.20,270.00" fill="#fff" stroke="#000" stroke-width="2.1" stroke-linejoin="miter" shape-rendering="auto"/>
<line x1="140.09" y1="266.70" x2="131.50" y2="266.70" stroke="#000" stroke-width="2.6" />
<rect x="147.40" y="264.10" width="2.20" height="5.20" fill="#fff" />
<rect x="85.30" y="277.00" width="6.50" height="12.00" fill="#000" />
<rect x="86.50" y="278.20" width="4.10" height="1.00" fill="#fff" />
<rect x="86.50" y="282.50" width="4.10" height="1.00" fill="#fff" />
<rect x="86.50" y="286.80" width="4.10" height="1.00" fill="#fff" />
<rect x="86.50" y="278.20" width="1.00" height="9.60" fill="#fff" />
<rect x="108.30" y="279.10" width="39.50" height="16.40" rx="2.5" fill="#000"/>
<rect x="107.70" y="278.50" width="38.30" height="15.20" rx="2.5" fill="#fff" stroke="#000" stroke-width="1.8"/>
<polygon points="108.80,282.75 98.43,285.45 98.43,286.65 108.80,289.35" fill="#fff" stroke="#000" stroke-width="2.1" stroke-linejoin="miter" shape-rendering="auto"/>
<line x1="99.93" y1="286.05" x2="91.50" y2="286.05" stroke="#000" stroke-width="2.6" />
<rect x="107.00" y="283.45" width="2.20" height="5.20" fill="#fff" />
<rect x="86.00" y="294.40" width="5.80" height="12.60" fill="#000" />
<rect x="87.20" y="295.60" width="3.40" height="1.00" fill="#fff" />
<rect x="87.20" y="300.20" width="3.40" height="1.00" fill="#fff" />
<rect x="87.20" y="304.80" width="3.40" height="1.00" fill="#fff" />
<rect x="87.20" y="295.60" width="1.00" height="10.20" fill="#fff" />
<rect x="47.10" y="294.00" width="23.60" height="14.90" rx="2.5" fill="#000"/>
<rect x="46.50" y="293.40" width="22.40" height="13.70" rx="2.5" fill="#fff" stroke="#000" stroke-width="1.8"/>
<polygon points="68.20,296.90 78.81,299.60 78.81,300.80 68.20,303.50" fill="#fff" stroke="#000" stroke-width="2.1" stroke-linejoin="miter" shape-rendering="auto"/>
<line x1="77.31" y1="300.20" x2="86.40" y2="300.20" stroke="#000" stroke-width="2.6" />
<rect x="67.10" y="297.60" width="3.00" height="5.20" fill="#fff" />
<rect x="85.70" y="313.40" width="12.30" height="12.80" fill="#000" />
<rect x="86.90" y="314.60" width="4.55" height="1.00" fill="#fff" />
<rect x="93.05" y="314.60" width="3.75" height="1.00" fill="#fff" />
<rect x="86.90" y="319.30" width="4.55" height="1.00" fill="#fff" />
<rect x="93.05" y="319.30" width="3.75" height="1.00" fill="#fff" />
<rect x="86.90" y="324.00" width="4.55" height="1.00" fill="#fff" />
<rect x="93.05" y="324.00" width="3.75" height="1.00" fill="#fff" />
<rect x="37.30" y="312.00" width="33.40" height="16.10" rx="2.5" fill="#000"/>
<rect x="36.70" y="311.40" width="32.20" height="14.90" rx="2.5" fill="#fff" stroke="#000" stroke-width="1.8"/>
<polygon points="68.20,315.50 78.57,318.20 78.57,319.40 68.20,322.10" fill="#fff" stroke="#000" stroke-width="2.1" stroke-linejoin="miter" shape-rendering="auto"/>
<line x1="77.07" y1="318.80" x2="86.00" y2="318.80" stroke="#000" stroke-width="2.6" />
<rect x="67.10" y="316.20" width="3.00" height="5.20" fill="#fff" />
<rect x="113.60" y="312.10" width="34.90" height="14.90" rx="2.5" fill="#000"/>
<rect x="113.00" y="311.50" width="33.70" height="13.70" rx="2.5" fill="#fff" stroke="#000" stroke-width="1.8"/>
<polygon points="114.10,315.00 104.13,317.70 104.13,318.90 114.10,321.60" fill="#fff" stroke="#000" stroke-width="2.1" stroke-linejoin="miter" shape-rendering="auto"/>
<line x1="105.63" y1="318.30" x2="97.50" y2="318.30" stroke="#000" stroke-width="2.6" />
<rect x="112.30" y="315.70" width="2.20" height="5.20" fill="#fff" />
<rect x="148.30" y="304.50" width="6.30" height="18.10" fill="#000" />
<rect x="149.50" y="305.70" width="3.90" height="1.00" fill="#fff" />
<rect x="149.50" y="310.03" width="3.90" height="1.00" fill="#fff" />
<rect x="149.50" y="316.07" width="3.90" height="1.00" fill="#fff" />
<rect x="149.50" y="320.40" width="3.90" height="1.00" fill="#fff" />
<rect x="149.50" y="305.70" width="4.10" height="4.63" fill="#fff" />
<rect x="150.55" y="306.92" width="1.80" height="1.60" fill="#000" />
<rect x="170.10" y="305.90" width="40.40" height="16.30" rx="2.5" fill="#000"/>
<rect x="169.50" y="305.30" width="39.20" height="15.10" rx="2.5" fill="#fff" stroke="#000" stroke-width="1.8"/>
<polygon points="170.60,309.50 160.75,312.20 160.75,313.40 170.60,316.10" fill="#fff" stroke="#000" stroke-width="2.1" stroke-linejoin="miter" shape-rendering="auto"/>
<line x1="162.25" y1="312.80" x2="154.20" y2="312.80" stroke="#000" stroke-width="2.6" />
<rect x="168.80" y="310.20" width="2.20" height="5.20" fill="#fff" />
<rect x="85.70" y="330.50" width="12.30" height="12.90" fill="#000" />
<rect x="86.90" y="331.70" width="4.55" height="1.00" fill="#fff" />
<rect x="93.05" y="331.70" width="3.75" height="1.00" fill="#fff" />
<rect x="86.90" y="336.45" width="4.55" height="1.00" fill="#fff" />
<rect x="93.05" y="336.45" width="3.75" height="1.00" fill="#fff" />
<rect x="86.90" y="341.20" width="4.55" height="1.00" fill="#fff" />
<rect x="93.05" y="341.20" width="3.75" height="1.00" fill="#fff" />
<rect x="37.30" y="331.20" width="33.40" height="16.20" rx="2.5" fill="#000"/>
<rect x="36.70" y="330.60" width="32.20" height="15.00" rx="2.5" fill="#fff" stroke="#000" stroke-width="1.8"/>
<polygon points="68.20,334.75 78.57,337.45 78.57,338.65 68.20,341.35" fill="#fff" stroke="#000" stroke-width="2.1" stroke-linejoin="miter" shape-rendering="auto"/>
<line x1="77.07" y1="338.05" x2="86.00" y2="338.05" stroke="#000" stroke-width="2.6" />
<rect x="67.10" y="335.45" width="3.00" height="5.20" fill="#fff" />
<rect x="114.30" y="329.90" width="40.10" height="16.40" rx="2.5" fill="#000"/>
<rect x="113.70" y="329.30" width="38.90" height="15.20" rx="2.5" fill="#fff" stroke="#000" stroke-width="1.8"/>
<polygon points="114.80,333.55 104.43,336.25 104.43,337.45 114.80,340.15" fill="#fff" stroke="#000" stroke-width="2.1" stroke-linejoin="miter" shape-rendering="auto"/>
<line x1="105.93" y1="336.85" x2="97.50" y2="336.85" stroke="#000" stroke-width="2.6" />
<rect x="113.00" y="334.25" width="2.20" height="5.20" fill="#fff" />
<rect x="89.50" y="365.00" width="5.90" height="18.00" fill="#000" />
<rect x="90.70" y="366.20" width="3.50" height="1.00" fill="#fff" />
<rect x="90.70" y="370.50" width="3.50" height="1.00" fill="#fff" />
<rect x="90.70" y="376.50" width="3.50" height="1.00" fill="#fff" />
<rect x="90.70" y="380.80" width="3.50" height="1.00" fill="#fff" />
<rect x="90.70" y="366.20" width="3.70" height="4.60" fill="#fff" />
<rect x="91.55" y="367.40" width="1.80" height="1.60" fill="#000" />
<rect x="98.20" y="370.00" width="6.90" height="13.30" fill="#000" />
<rect x="99.40" y="371.20" width="4.50" height="1.00" fill="#fff" />
<rect x="99.40" y="376.15" width="4.50" height="1.00" fill="#fff" />
<rect x="99.40" y="381.10" width="4.50" height="1.00" fill="#fff" />
<rect x="99.40" y="371.20" width="1.00" height="10.90" fill="#fff" />
<rect x="34.70" y="369.80" width="39.30" height="16.80" rx="2.5" fill="#000"/>
<rect x="34.10" y="369.20" width="38.10" height="15.60" rx="2.5" fill="#fff" stroke="#000" stroke-width="1.8"/>
<polygon points="71.50,373.65 82.28,376.35 82.28,377.55 71.50,380.25" fill="#fff" stroke="#000" stroke-width="2.1" stroke-linejoin="miter" shape-rendering="auto"/>
<line x1="80.78" y1="376.95" x2="90.00" y2="376.95" stroke="#000" stroke-width="2.6" />
<rect x="70.40" y="374.35" width="3.00" height="5.20" fill="#fff" />
<rect x="121.30" y="369.50" width="39.90" height="16.90" rx="2.5" fill="#000"/>
<rect x="120.70" y="368.90" width="38.70" height="15.70" rx="2.5" fill="#fff" stroke="#000" stroke-width="1.8"/>
<polygon points="121.80,373.40 111.60,376.10 111.60,377.30 121.80,380.00" fill="#fff" stroke="#000" stroke-width="2.1" stroke-linejoin="miter" shape-rendering="auto"/>
<line x1="113.10" y1="376.70" x2="104.80" y2="376.70" stroke="#000" stroke-width="2.6" />
<rect x="120.00" y="374.10" width="2.20" height="5.20" fill="#fff" />
<rect x="239.00" y="267.00" width="45.00" height="44.00" fill="#000" />
<line x1="241" y1="265.5" x2="282" y2="265.5" stroke="#000" stroke-width="3" stroke-dasharray="1 1"/>
<line x1="241" y1="312.5" x2="282" y2="312.5" stroke="#000" stroke-width="3" stroke-dasharray="1 1"/>
<line x1="237.5" y1="269" x2="237.5" y2="309" stroke="#000" stroke-width="3" stroke-dasharray="1 1"/>
<line x1="285.5" y1="269" x2="285.5" y2="309" stroke="#000" stroke-width="3" stroke-dasharray="1 1"/>
<circle cx="278.8" cy="306.4" r="1.7" fill="#fff" shape-rendering="auto"/>
<rect x="349.50" y="264.00" width="19.50" height="7.00" fill="#000" />
<rect x="350.50" y="265.00" width="5.00" height="5.00" fill="#fff" />
<rect x="352.15" y="266.70" width="1.60" height="1.60" fill="#000" />
<rect x="357.20" y="265.50" width="3.70" height="4.00" fill="#fff" />
<rect x="363.70" y="265.50" width="3.70" height="4.00" fill="#fff" />
<rect x="295.50" y="259.50" width="40.10" height="16.80" rx="2.5" fill="#000"/>
<rect x="294.90" y="258.90" width="38.90" height="15.60" rx="2.5" fill="#fff" stroke="#000" stroke-width="1.8"/>
<polygon points="333.10,263.35 342.95,266.05 342.95,267.25 333.10,269.95" fill="#fff" stroke="#000" stroke-width="2.1" stroke-linejoin="miter" shape-rendering="auto"/>
<line x1="341.45" y1="266.65" x2="350.00" y2="266.65" stroke="#000" stroke-width="2.6" />
<rect x="332.00" y="264.05" width="3.00" height="5.20" fill="#fff" />
<rect x="300.00" y="291.80" width="85.00" height="24.00" fill="#000" />
<rect x="303.20" y="294.20" width="3.40" height="4.60" fill="#fff" />
<rect x="303.20" y="308.80" width="3.40" height="4.50" fill="#fff" />
<rect x="309.05" y="294.20" width="3.40" height="4.60" fill="#fff" />
<rect x="309.05" y="308.80" width="3.40" height="4.50" fill="#fff" />
<rect x="314.90" y="294.20" width="3.40" height="4.60" fill="#fff" />
<rect x="314.90" y="308.80" width="3.40" height="4.50" fill="#fff" />
<rect x="320.75" y="294.20" width="3.40" height="4.60" fill="#fff" />
<rect x="320.75" y="308.80" width="3.40" height="4.50" fill="#fff" />
<rect x="326.60" y="294.20" width="3.40" height="4.60" fill="#fff" />
<rect x="326.60" y="308.80" width="3.40" height="4.50" fill="#fff" />
<rect x="332.45" y="294.20" width="3.40" height="4.60" fill="#fff" />
<rect x="332.45" y="308.80" width="3.40" height="4.50" fill="#fff" />
<rect x="338.30" y="294.20" width="3.40" height="4.60" fill="#fff" />
<rect x="338.30" y="308.80" width="3.40" height="4.50" fill="#fff" />
<rect x="344.15" y="294.20" width="3.40" height="4.60" fill="#fff" />
<rect x="344.15" y="308.80" width="3.40" height="4.50" fill="#fff" />
<rect x="350.00" y="294.20" width="3.40" height="4.60" fill="#fff" />
<rect x="350.00" y="308.80" width="3.40" height="4.50" fill="#fff" />
<rect x="355.85" y="294.20" width="3.40" height="4.60" fill="#fff" />
<rect x="355.85" y="308.80" width="3.40" height="4.50" fill="#fff" />
<rect x="361.70" y="294.20" width="3.40" height="4.60" fill="#fff" />
<rect x="361.70" y="308.80" width="3.40" height="4.50" fill="#fff" />
<rect x="367.55" y="294.20" width="3.40" height="4.60" fill="#fff" />
<rect x="367.55" y="308.80" width="3.40" height="4.50" fill="#fff" />
<rect x="373.40" y="294.20" width="3.40" height="4.60" fill="#fff" />
<rect x="373.40" y="308.80" width="3.40" height="4.50" fill="#fff" />
<rect x="379.25" y="294.20" width="3.40" height="4.60" fill="#fff" />
<rect x="379.25" y="308.80" width="3.40" height="4.50" fill="#fff" />
<rect x="306.00" y="302.20" width="71.00" height="4.70" fill="#fff" />
<ellipse cx="385" cy="304.2" rx="2.8" ry="2.3" fill="#fff"/>
<rect x="326.3" y="295.4" width="32.7" height="16.8" rx="3" fill="#000"/>
<rect x="328.2" y="297" width="29" height="13.5" rx="2.5" fill="#fff"/>
<rect x="441.00" y="258.00" width="14.00" height="6.50" fill="#000" />
<rect x="442.20" y="259.50" width="4.20" height="3.50" fill="#fff" />
<rect x="449.20" y="259.50" width="4.20" height="3.50" fill="#fff" />
<rect x="428.90" y="282.60" width="40.80" height="16.80" rx="2.5" fill="#000"/>
<rect x="428.30" y="282.00" width="39.60" height="15.60" rx="2.5" fill="#fff" stroke="#000" stroke-width="1.8"/>
<polygon points="444.6,283 447.2,268 447.8,268 450.4,283" fill="#fff" stroke="#000" stroke-width="2" shape-rendering="auto"/>
<rect x="445.40" y="282.00" width="4.20" height="2.50" fill="#fff" />
<line x1="447.50" y1="264.00" x2="447.50" y2="270.00" stroke="#000" stroke-width="2" />
<rect x="476.30" y="265.00" width="88.70" height="41.50" fill="#000" />
<line x1="480.00" y1="267.70" x2="563.00" y2="267.70" stroke="#fff" stroke-width="1" stroke-dasharray="3.2 2.4"/>
<line x1="480.00" y1="304.00" x2="563.00" y2="304.00" stroke="#fff" stroke-width="1" stroke-dasharray="3.2 2.4"/>
<ellipse cx="476.3" cy="286" rx="2.2" ry="6" fill="#fff"/>
<rect x="500.30" y="278.20" width="40.50" height="14.10" fill="#fff" />
<rect x="450.80" y="310.20" width="127.40" height="42.40" fill="#000" />
<line x1="454.00" y1="312.80" x2="577.00" y2="312.80" stroke="#fff" stroke-width="1" stroke-dasharray="3.2 2.4"/>
<ellipse cx="450.8" cy="330.5" rx="2.2" ry="7" fill="#fff"/>
<rect x="501.00" y="324.00" width="27.80" height="14.20" fill="#fff" />
<rect x="451.70" y="358.80" width="18.90" height="6.00" fill="#000" />
<rect x="452.70" y="359.80" width="4.80" height="4.00" fill="#fff" />
<rect x="454.25" y="361.00" width="1.60" height="1.60" fill="#000" />
<rect x="459.20" y="360.30" width="3.50" height="3.00" fill="#fff" />
<rect x="465.50" y="360.30" width="3.50" height="3.00" fill="#fff" />
<rect x="397.50" y="353.70" width="39.90" height="16.70" rx="2.5" fill="#000"/>
<rect x="396.90" y="353.10" width="38.70" height="15.50" rx="2.5" fill="#fff" stroke="#000" stroke-width="1.8"/>
<polygon points="434.90,357.50 445.04,360.20 445.04,361.40 434.90,364.10" fill="#fff" stroke="#000" stroke-width="2.1" stroke-linejoin="miter" shape-rendering="auto"/>
<line x1="443.54" y1="360.80" x2="452.30" y2="360.80" stroke="#000" stroke-width="2.6" />
<rect x="433.80" y="358.20" width="3.00" height="5.20" fill="#fff" />
<path d="M88.8,388.8 H220.4 V518.8 H92 L88.8,515.6 Z" fill="#000"/>
<rect x="139.9" y="446.9" width="29.1" height="14.1" rx="1.5" fill="#fff"/>
<rect x="66.30" y="417.00" width="12.70" height="18.50" fill="#000" />
<rect x="67.50" y="418.20" width="4.75" height="1.00" fill="#fff" />
<rect x="73.85" y="418.20" width="3.95" height="1.00" fill="#fff" />
<rect x="67.50" y="422.67" width="4.75" height="1.00" fill="#fff" />
<rect x="73.85" y="422.67" width="3.95" height="1.00" fill="#fff" />
<rect x="67.50" y="428.83" width="4.75" height="1.00" fill="#fff" />
<rect x="73.85" y="428.83" width="3.95" height="1.00" fill="#fff" />
<rect x="67.50" y="433.30" width="4.75" height="1.00" fill="#fff" />
<rect x="73.85" y="433.30" width="3.95" height="1.00" fill="#fff" />
<rect x="67.50" y="418.20" width="4.15" height="4.77" fill="#fff" />
<rect x="68.57" y="419.48" width="1.80" height="1.60" fill="#000" />
<rect x="73.85" y="418.20" width="4.15" height="4.77" fill="#fff" />
<rect x="74.92" y="419.48" width="1.80" height="1.60" fill="#000" />
<rect x="17.90" y="419.10" width="33.10" height="14.90" rx="2.5" fill="#000"/>
<rect x="17.30" y="418.50" width="31.90" height="13.70" rx="2.5" fill="#fff" stroke="#000" stroke-width="1.8"/>
<polygon points="48.50,422.00 59.05,424.70 59.05,425.90 48.50,428.60" fill="#fff" stroke="#000" stroke-width="2.1" stroke-linejoin="miter" shape-rendering="auto"/>
<line x1="57.55" y1="425.30" x2="66.60" y2="425.30" stroke="#000" stroke-width="2.6" />
<rect x="47.40" y="422.70" width="3.00" height="5.20" fill="#fff" />
<rect x="95.20" y="418.80" width="31.70" height="13.70" rx="1" fill="#fff"/>
<polygon points="95.70,422.65 85.18,425.05 85.18,426.25 95.70,428.65" fill="#fff" stroke="#000" stroke-width="1.8" shape-rendering="auto"/>
<rect x="94.70" y="424.05" width="2.00" height="3.20" fill="#fff" />
<line x1="86.18" y1="425.65" x2="78.50" y2="425.65" stroke="#000" stroke-width="2.4" />
<rect x="72.30" y="438.30" width="6.20" height="18.00" fill="#000" />
<rect x="73.50" y="439.50" width="3.80" height="1.00" fill="#fff" />
<rect x="73.50" y="443.80" width="3.80" height="1.00" fill="#fff" />
<rect x="73.50" y="449.80" width="3.80" height="1.00" fill="#fff" />
<rect x="73.50" y="454.10" width="3.80" height="1.00" fill="#fff" />
<rect x="73.50" y="439.50" width="1.00" height="15.60" fill="#fff" />
<rect x="73.50" y="439.50" width="4.00" height="4.60" fill="#fff" />
<rect x="74.50" y="440.70" width="1.80" height="1.60" fill="#000" />
<rect x="23.10" y="438.50" width="33.90" height="14.50" rx="2.5" fill="#000"/>
<rect x="22.50" y="437.90" width="32.70" height="13.30" rx="2.5" fill="#fff" stroke="#000" stroke-width="1.8"/>
<polygon points="54.50,441.20 65.05,443.90 65.05,445.10 54.50,447.80" fill="#fff" stroke="#000" stroke-width="2.1" stroke-linejoin="miter" shape-rendering="auto"/>
<line x1="63.55" y1="444.50" x2="72.60" y2="444.50" stroke="#000" stroke-width="2.6" />
<rect x="53.40" y="441.90" width="3.00" height="5.20" fill="#fff" />
<rect x="55.00" y="437.00" width="2.00" height="17.00" fill="#000" />
<rect x="66.30" y="461.50" width="12.70" height="12.80" fill="#000" />
<rect x="67.50" y="462.70" width="4.75" height="1.00" fill="#fff" />
<rect x="73.85" y="462.70" width="3.95" height="1.00" fill="#fff" />
<rect x="67.50" y="467.40" width="4.75" height="1.00" fill="#fff" />
<rect x="73.85" y="467.40" width="3.95" height="1.00" fill="#fff" />
<rect x="67.50" y="472.10" width="4.75" height="1.00" fill="#fff" />
<rect x="73.85" y="472.10" width="3.95" height="1.00" fill="#fff" />
<rect x="17.10" y="460.50" width="33.90" height="15.00" rx="2.5" fill="#000"/>
<rect x="16.50" y="459.90" width="32.70" height="13.80" rx="2.5" fill="#fff" stroke="#000" stroke-width="1.8"/>
<polygon points="48.50,463.45 59.05,466.15 59.05,467.35 48.50,470.05" fill="#fff" stroke="#000" stroke-width="2.1" stroke-linejoin="miter" shape-rendering="auto"/>
<line x1="57.55" y1="466.75" x2="66.60" y2="466.75" stroke="#000" stroke-width="2.6" />
<rect x="47.40" y="464.15" width="3.00" height="5.20" fill="#fff" />
<rect x="95.20" y="460.00" width="36.50" height="13.40" rx="1" fill="#fff"/>
<polygon points="95.70,463.70 85.18,466.10 85.18,467.30 95.70,469.70" fill="#fff" stroke="#000" stroke-width="1.8" shape-rendering="auto"/>
<rect x="94.70" y="465.10" width="2.00" height="3.20" fill="#fff" />
<line x1="86.18" y1="466.70" x2="78.50" y2="466.70" stroke="#000" stroke-width="2.4" />
<rect x="66.30" y="478.30" width="12.70" height="13.20" fill="#000" />
<rect x="67.50" y="479.50" width="4.75" height="1.00" fill="#fff" />
<rect x="73.85" y="479.50" width="3.95" height="1.00" fill="#fff" />
<rect x="67.50" y="484.40" width="4.75" height="1.00" fill="#fff" />
<rect x="73.85" y="484.40" width="3.95" height="1.00" fill="#fff" />
<rect x="67.50" y="489.30" width="4.75" height="1.00" fill="#fff" />
<rect x="73.85" y="489.30" width="3.95" height="1.00" fill="#fff" />
<rect x="11.90" y="480.50" width="38.60" height="15.00" rx="2.5" fill="#000"/>
<rect x="11.30" y="479.90" width="37.40" height="13.80" rx="2.5" fill="#fff" stroke="#000" stroke-width="1.8"/>
<polygon points="48.00,483.45 58.84,486.15 58.84,487.35 48.00,490.05" fill="#fff" stroke="#000" stroke-width="2.1" stroke-linejoin="miter" shape-rendering="auto"/>
<line x1="57.34" y1="486.75" x2="66.60" y2="486.75" stroke="#000" stroke-width="2.6" />
<rect x="46.90" y="484.15" width="3.00" height="5.20" fill="#fff" />
<rect x="95.20" y="478.20" width="36.50" height="13.70" rx="1" fill="#fff"/>
<polygon points="95.70,482.05 85.18,484.45 85.18,485.65 95.70,488.05" fill="#fff" stroke="#000" stroke-width="1.8" shape-rendering="auto"/>
<rect x="94.70" y="483.45" width="2.00" height="3.20" fill="#fff" />
<line x1="86.18" y1="485.05" x2="78.50" y2="485.05" stroke="#000" stroke-width="2.4" />
<rect x="251.00" y="397.00" width="96.00" height="96.00" fill="#000" />
<line x1="254" y1="394.25" x2="344" y2="394.25" stroke="#000" stroke-width="5.5" stroke-dasharray="1 1"/>
<line x1="254" y1="495.75" x2="344" y2="495.75" stroke="#000" stroke-width="5.5" stroke-dasharray="1 1"/>
<line x1="248.25" y1="400" x2="248.25" y2="490" stroke="#000" stroke-width="5.5" stroke-dasharray="1 1"/>
<line x1="349.75" y1="400" x2="349.75" y2="490" stroke="#000" stroke-width="5.5" stroke-dasharray="1 1"/>
<circle cx="258.4" cy="486.5" r="2.9" fill="#fff" shape-rendering="auto"/>
<rect x="284.90" y="437.80" width="28.30" height="14.00" fill="#fff" />
<rect x="226.40" y="393.30" width="6.50" height="13.90" fill="#000" />
<rect x="227.60" y="394.50" width="4.10" height="1.00" fill="#fff" />
<rect x="227.60" y="399.75" width="4.10" height="1.00" fill="#fff" />
<rect x="227.60" y="405.00" width="4.10" height="1.00" fill="#fff" />
<rect x="227.60" y="394.50" width="1.00" height="11.50" fill="#fff" />
<rect x="210.30" y="359.50" width="41.90" height="17.00" rx="2.5" fill="#000"/>
<rect x="209.70" y="358.90" width="40.70" height="15.80" rx="2.5" fill="#fff" stroke="#000" stroke-width="1.8"/>
<polygon points="226.6,374.5 229.3,388 230.1,388 232.8,374.5" fill="#fff" stroke="#000" stroke-width="2" shape-rendering="auto"/>
<rect x="228.20" y="373.20" width="3.00" height="3.00" fill="#fff" />
<line x1="229.70" y1="386.00" x2="229.70" y2="394.00" stroke="#000" stroke-width="2.4" />
<rect x="226.40" y="412.60" width="6.50" height="17.70" fill="#000" />
<rect x="227.60" y="413.80" width="4.10" height="1.00" fill="#fff" />
<rect x="227.60" y="418.00" width="4.10" height="1.00" fill="#fff" />
<rect x="227.60" y="423.90" width="4.10" height="1.00" fill="#fff" />
<rect x="227.60" y="428.10" width="4.10" height="1.00" fill="#fff" />
<rect x="227.60" y="413.80" width="4.30" height="4.50" fill="#fff" />
<rect x="228.75" y="414.95" width="1.80" height="1.60" fill="#000" />
<rect x="250.00" y="411.00" width="37.50" height="13.60" rx="1" fill="#fff"/>
<polygon points="250.50,412.80 239.80,417.20 239.80,418.40 250.50,422.80" fill="#fff" stroke="#000" stroke-width="1.8" shape-rendering="auto"/>
<rect x="249.50" y="414.20" width="2.00" height="7.20" fill="#fff" />
<line x1="240.80" y1="417.80" x2="233.00" y2="417.80" stroke="#000" stroke-width="2.4" />
<rect x="226.40" y="435.00" width="6.50" height="13.00" fill="#000" />
<rect x="227.60" y="436.20" width="4.10" height="1.00" fill="#fff" />
<rect x="227.60" y="441.00" width="4.10" height="1.00" fill="#fff" />
<rect x="227.60" y="445.80" width="4.10" height="1.00" fill="#fff" />
<rect x="227.60" y="436.20" width="1.00" height="10.60" fill="#fff" />
<rect x="173.50" y="434.40" width="36.10" height="13.30" rx="1" fill="#fff"/>
<polygon points="209.10,437.85 220.39,440.45 220.39,441.65 209.10,444.25" fill="#fff" stroke="#000" stroke-width="1.8" shape-rendering="auto"/>
<rect x="208.10" y="438.45" width="2.00" height="5.20" fill="#fff" />
<line x1="219.39" y1="441.05" x2="227.00" y2="441.05" stroke="#000" stroke-width="2.4" />
<rect x="226.40" y="452.70" width="6.50" height="18.60" fill="#000" />
<rect x="227.60" y="453.90" width="4.10" height="1.00" fill="#fff" />
<rect x="227.60" y="458.40" width="4.10" height="1.00" fill="#fff" />
<rect x="227.60" y="464.60" width="4.10" height="1.00" fill="#fff" />
<rect x="227.60" y="469.10" width="4.10" height="1.00" fill="#fff" />
<rect x="227.60" y="453.90" width="4.30" height="4.80" fill="#fff" />
<rect x="228.75" y="455.20" width="1.80" height="1.60" fill="#000" />
<rect x="249.50" y="454.00" width="37.30" height="13.40" rx="1" fill="#fff"/>
<polygon points="250.00,455.70 239.60,460.10 239.60,461.30 250.00,465.70" fill="#fff" stroke="#000" stroke-width="1.8" shape-rendering="auto"/>
<rect x="249.00" y="457.10" width="2.00" height="7.20" fill="#fff" />
<line x1="240.60" y1="460.70" x2="233.00" y2="460.70" stroke="#000" stroke-width="2.4" />
<rect x="226.40" y="475.80" width="6.50" height="12.90" fill="#000" />
<rect x="227.60" y="477.00" width="4.10" height="1.00" fill="#fff" />
<rect x="227.60" y="481.75" width="4.10" height="1.00" fill="#fff" />
<rect x="227.60" y="486.50" width="4.10" height="1.00" fill="#fff" />
<rect x="227.60" y="477.00" width="1.00" height="10.50" fill="#fff" />
<rect x="173.50" y="474.50" width="36.10" height="14.00" rx="1" fill="#fff"/>
<polygon points="209.10,478.30 220.39,480.90 220.39,482.10 209.10,484.70" fill="#fff" stroke="#000" stroke-width="1.8" shape-rendering="auto"/>
<rect x="208.10" y="478.90" width="2.00" height="5.20" fill="#fff" />
<line x1="219.39" y1="481.50" x2="227.00" y2="481.50" stroke="#000" stroke-width="2.4" />
<rect x="226.40" y="493.80" width="6.50" height="11.40" fill="#000" />
<rect x="227.60" y="495.00" width="4.10" height="1.00" fill="#fff" />
<rect x="227.60" y="499.00" width="4.10" height="1.00" fill="#fff" />
<rect x="227.60" y="503.00" width="4.10" height="1.00" fill="#fff" />
<rect x="227.60" y="495.00" width="1.00" height="9.00" fill="#fff" />
<rect x="249.00" y="494.50" width="39.30" height="14.80" rx="2.5" fill="#000"/>
<rect x="248.40" y="493.90" width="38.10" height="13.60" rx="2.5" fill="#fff" stroke="#000" stroke-width="1.8"/>
<polygon points="249.50,497.35 239.59,500.05 239.59,501.25 249.50,503.95" fill="#fff" stroke="#000" stroke-width="2.1" stroke-linejoin="miter" shape-rendering="auto"/>
<line x1="241.09" y1="500.65" x2="233.00" y2="500.65" stroke="#000" stroke-width="2.6" />
<rect x="247.70" y="498.05" width="2.20" height="5.20" fill="#fff" />
<line x1="248.50" y1="522.50" x2="238.50" y2="512.00" stroke="#000" stroke-width="2.2" shape-rendering="auto"/>
<line x1="218.00" y1="530.50" x2="228.00" y2="520.00" stroke="#000" stroke-width="2.2" shape-rendering="auto"/>
<rect x="226.70" y="509.60" width="13.00" height="11.40" fill="#000" />
<rect x="230.80" y="510.80" width="1.00" height="9.00" fill="#fff" />
<rect x="235.20" y="510.80" width="1.00" height="9.00" fill="#fff" />
<rect x="249.00" y="521.90" width="39.30" height="16.40" rx="2.5" fill="#000"/>
<rect x="248.40" y="521.30" width="38.10" height="15.20" rx="2.5" fill="#fff" stroke="#000" stroke-width="1.8"/>
<rect x="180.30" y="530.20" width="39.30" height="16.30" rx="2.5" fill="#000"/>
<rect x="179.70" y="529.60" width="38.10" height="15.10" rx="2.5" fill="#fff" stroke="#000" stroke-width="1.8"/>
<rect x="360.7" y="394.50" width="225.90000000000003" height="18.80" fill="#fff" stroke="#000" stroke-width="1"/>
<rect x="360.20" y="411.80" width="226.90" height="2.00" fill="#000" />
<rect x="360.20" y="397.70" width="9.40" height="1.00" fill="#000" />
<rect x="360.20" y="404.90" width="9.40" height="1.00" fill="#000" />
<rect x="579.00" y="397.70" width="8.10" height="1.00" fill="#000" />
<rect x="579.00" y="404.90" width="8.10" height="1.00" fill="#000" />
<rect x="369.00" y="394.00" width="1.00" height="18.80" fill="#000" />
<rect x="370.00" y="395.70" width="2.90" height="17.10" fill="#000" />
<rect x="578.70" y="394.00" width="0.90" height="18.80" fill="#000" />
<rect x="575.70" y="395.70" width="2.00" height="17.10" fill="#000" />
<path d="M372.9,397.40 H381.5 V406.80 H379.8 V412.80 M379.8,406.80 V404.30 H374.6 V407.30 H372.9" fill="none" stroke="#000" stroke-width="1.2"/>
<rect x="372.90" y="407.00" width="2.30" height="2.20" fill="#000" />
<path d="M575.7,397.40 H566.3 V406.80 H568.6 V412.80 M568.6,406.80 V404.30 H573.2 V407.30 H575.7" fill="none" stroke="#000" stroke-width="1.2"/>
<rect x="386.2" y="395.90" width="175.8" height="13.6" rx="1" fill="#000"/>
<rect x="387.90" y="397.40" width="2.00" height="5.20" fill="#fff" />
<rect x="389.20" y="404.60" width="1.10" height="3.60" fill="#fff" />
<rect x="393.73" y="397.40" width="3.60" height="5.20" fill="#fff" />
<rect x="395.03" y="404.60" width="1.10" height="3.60" fill="#fff" />
<rect x="399.56" y="397.40" width="3.60" height="5.20" fill="#fff" />
<rect x="400.86" y="404.60" width="1.10" height="3.60" fill="#fff" />
<rect x="405.39" y="397.40" width="3.60" height="5.20" fill="#fff" />
<rect x="406.69" y="404.60" width="1.10" height="3.60" fill="#fff" />
<rect x="411.22" y="397.40" width="3.60" height="5.20" fill="#fff" />
<rect x="412.52" y="404.60" width="1.10" height="3.60" fill="#fff" />
<rect x="417.05" y="397.40" width="3.60" height="5.20" fill="#fff" />
<rect x="418.35" y="404.60" width="1.10" height="3.60" fill="#fff" />
<rect x="422.88" y="397.40" width="3.60" height="5.20" fill="#fff" />
<rect x="424.18" y="404.60" width="1.10" height="3.60" fill="#fff" />
<rect x="428.71" y="397.40" width="3.60" height="5.20" fill="#fff" />
<rect x="430.01" y="404.60" width="1.10" height="3.60" fill="#fff" />
<rect x="434.54" y="397.40" width="3.60" height="5.20" fill="#fff" />
<rect x="435.84" y="404.60" width="1.10" height="3.60" fill="#fff" />
<rect x="440.37" y="397.40" width="3.60" height="5.20" fill="#fff" />
<rect x="441.67" y="404.60" width="1.10" height="3.60" fill="#fff" />
<rect x="446.20" y="397.40" width="3.60" height="5.20" fill="#fff" />
<rect x="447.50" y="404.60" width="1.10" height="3.60" fill="#fff" />
<rect x="452.03" y="397.40" width="3.60" height="5.20" fill="#fff" />
<rect x="453.33" y="404.60" width="1.10" height="3.60" fill="#fff" />
<rect x="457.86" y="397.40" width="3.60" height="5.20" fill="#fff" />
<rect x="459.16" y="404.60" width="1.10" height="3.60" fill="#fff" />
<rect x="463.69" y="397.40" width="3.60" height="5.20" fill="#fff" />
<rect x="464.99" y="404.60" width="1.10" height="3.60" fill="#fff" />
<rect x="469.52" y="397.40" width="3.60" height="5.20" fill="#fff" />
<rect x="470.82" y="404.60" width="1.10" height="3.60" fill="#fff" />
<rect x="475.35" y="397.40" width="3.60" height="5.20" fill="#fff" />
<rect x="476.65" y="404.60" width="1.10" height="3.60" fill="#fff" />
<rect x="481.18" y="397.40" width="3.60" height="5.20" fill="#fff" />
<rect x="482.48" y="404.60" width="1.10" height="3.60" fill="#fff" />
<rect x="487.01" y="397.40" width="3.60" height="5.20" fill="#fff" />
<rect x="488.31" y="404.60" width="1.10" height="3.60" fill="#fff" />
<rect x="492.84" y="397.40" width="3.60" height="5.20" fill="#fff" />
<rect x="494.14" y="404.60" width="1.10" height="3.60" fill="#fff" />
<rect x="498.67" y="397.40" width="3.60" height="5.20" fill="#fff" />
<rect x="499.97" y="404.60" width="1.10" height="3.60" fill="#fff" />
<rect x="504.50" y="397.40" width="3.60" height="5.20" fill="#fff" />
<rect x="505.80" y="404.60" width="1.10" height="3.60" fill="#fff" />
<rect x="510.33" y="397.40" width="3.60" height="5.20" fill="#fff" />
<rect x="511.63" y="404.60" width="1.10" height="3.60" fill="#fff" />
<rect x="516.16" y="397.40" width="3.60" height="5.20" fill="#fff" />
<rect x="517.46" y="404.60" width="1.10" height="3.60" fill="#fff" />
<rect x="521.99" y="397.40" width="3.60" height="5.20" fill="#fff" />
<rect x="523.29" y="404.60" width="1.10" height="3.60" fill="#fff" />
<rect x="527.82" y="397.40" width="3.60" height="5.20" fill="#fff" />
<rect x="529.12" y="404.60" width="1.10" height="3.60" fill="#fff" />
<rect x="533.65" y="397.40" width="3.60" height="5.20" fill="#fff" />
<rect x="534.95" y="404.60" width="1.10" height="3.60" fill="#fff" />
<rect x="539.48" y="397.40" width="3.60" height="5.20" fill="#fff" />
<rect x="540.78" y="404.60" width="1.10" height="3.60" fill="#fff" />
<rect x="545.31" y="397.40" width="3.60" height="5.20" fill="#fff" />
<rect x="546.61" y="404.60" width="1.10" height="3.60" fill="#fff" />
<rect x="551.14" y="397.40" width="3.60" height="5.20" fill="#fff" />
<rect x="552.44" y="404.60" width="1.10" height="3.60" fill="#fff" />
<rect x="556.97" y="397.40" width="3.60" height="5.20" fill="#fff" />
<rect x="558.27" y="404.60" width="1.10" height="3.60" fill="#fff" />
<rect x="360.7" y="413.30" width="225.90000000000003" height="19.20" fill="#fff" stroke="#000" stroke-width="1"/>
<rect x="360.20" y="431.00" width="226.90" height="2.00" fill="#000" />
<rect x="360.20" y="416.50" width="9.40" height="1.00" fill="#000" />
<rect x="360.20" y="423.70" width="9.40" height="1.00" fill="#000" />
<rect x="579.00" y="416.50" width="8.10" height="1.00" fill="#000" />
<rect x="579.00" y="423.70" width="8.10" height="1.00" fill="#000" />
<rect x="369.00" y="412.80" width="1.00" height="19.20" fill="#000" />
<rect x="370.00" y="414.50" width="2.90" height="17.50" fill="#000" />
<rect x="578.70" y="412.80" width="0.90" height="19.20" fill="#000" />
<rect x="575.70" y="414.50" width="2.00" height="17.50" fill="#000" />
<path d="M372.9,416.20 H381.5 V425.60 H379.8 V432.00 M379.8,425.60 V423.10 H374.6 V426.10 H372.9" fill="none" stroke="#000" stroke-width="1.2"/>
<rect x="372.90" y="425.80" width="2.30" height="2.20" fill="#000" />
<path d="M575.7,416.20 H566.3 V425.60 H568.6 V432.00 M568.6,425.60 V423.10 H573.2 V426.10 H575.7" fill="none" stroke="#000" stroke-width="1.2"/>
<rect x="386.2" y="414.70" width="175.8" height="13.6" rx="1" fill="#000"/>
<rect x="387.90" y="416.20" width="2.00" height="5.20" fill="#fff" />
<rect x="389.20" y="423.40" width="1.10" height="3.60" fill="#fff" />
<rect x="393.73" y="416.20" width="3.60" height="5.20" fill="#fff" />
<rect x="395.03" y="423.40" width="1.10" height="3.60" fill="#fff" />
<rect x="399.56" y="416.20" width="3.60" height="5.20" fill="#fff" />
<rect x="400.86" y="423.40" width="1.10" height="3.60" fill="#fff" />
<rect x="405.39" y="416.20" width="3.60" height="5.20" fill="#fff" />
<rect x="406.69" y="423.40" width="1.10" height="3.60" fill="#fff" />
<rect x="411.22" y="416.20" width="3.60" height="5.20" fill="#fff" />
<rect x="412.52" y="423.40" width="1.10" height="3.60" fill="#fff" />
<rect x="417.05" y="416.20" width="3.60" height="5.20" fill="#fff" />
<rect x="418.35" y="423.40" width="1.10" height="3.60" fill="#fff" />
<rect x="422.88" y="416.20" width="3.60" height="5.20" fill="#fff" />
<rect x="424.18" y="423.40" width="1.10" height="3.60" fill="#fff" />
<rect x="428.71" y="416.20" width="3.60" height="5.20" fill="#fff" />
<rect x="430.01" y="423.40" width="1.10" height="3.60" fill="#fff" />
<rect x="434.54" y="416.20" width="3.60" height="5.20" fill="#fff" />
<rect x="435.84" y="423.40" width="1.10" height="3.60" fill="#fff" />
<rect x="440.37" y="416.20" width="3.60" height="5.20" fill="#fff" />
<rect x="441.67" y="423.40" width="1.10" height="3.60" fill="#fff" />
<rect x="446.20" y="416.20" width="3.60" height="5.20" fill="#fff" />
<rect x="447.50" y="423.40" width="1.10" height="3.60" fill="#fff" />
<rect x="452.03" y="416.20" width="3.60" height="5.20" fill="#fff" />
<rect x="453.33" y="423.40" width="1.10" height="3.60" fill="#fff" />
<rect x="457.86" y="416.20" width="3.60" height="5.20" fill="#fff" />
<rect x="459.16" y="423.40" width="1.10" height="3.60" fill="#fff" />
<rect x="463.69" y="416.20" width="3.60" height="5.20" fill="#fff" />
<rect x="464.99" y="423.40" width="1.10" height="3.60" fill="#fff" />
<rect x="469.52" y="416.20" width="3.60" height="5.20" fill="#fff" />
<rect x="470.82" y="423.40" width="1.10" height="3.60" fill="#fff" />
<rect x="475.35" y="416.20" width="3.60" height="5.20" fill="#fff" />
<rect x="476.65" y="423.40" width="1.10" height="3.60" fill="#fff" />
<rect x="481.18" y="416.20" width="3.60" height="5.20" fill="#fff" />
<rect x="482.48" y="423.40" width="1.10" height="3.60" fill="#fff" />
<rect x="487.01" y="416.20" width="3.60" height="5.20" fill="#fff" />
<rect x="488.31" y="423.40" width="1.10" height="3.60" fill="#fff" />
<rect x="492.84" y="416.20" width="3.60" height="5.20" fill="#fff" />
<rect x="494.14" y="423.40" width="1.10" height="3.60" fill="#fff" />
<rect x="498.67" y="416.20" width="3.60" height="5.20" fill="#fff" />
<rect x="499.97" y="423.40" width="1.10" height="3.60" fill="#fff" />
<rect x="504.50" y="416.20" width="3.60" height="5.20" fill="#fff" />
<rect x="505.80" y="423.40" width="1.10" height="3.60" fill="#fff" />
<rect x="510.33" y="416.20" width="3.60" height="5.20" fill="#fff" />
<rect x="511.63" y="423.40" width="1.10" height="3.60" fill="#fff" />
<rect x="516.16" y="416.20" width="3.60" height="5.20" fill="#fff" />
<rect x="517.46" y="423.40" width="1.10" height="3.60" fill="#fff" />
<rect x="521.99" y="416.20" width="3.60" height="5.20" fill="#fff" />
<rect x="523.29" y="423.40" width="1.10" height="3.60" fill="#fff" />
<rect x="527.82" y="416.20" width="3.60" height="5.20" fill="#fff" />
<rect x="529.12" y="423.40" width="1.10" height="3.60" fill="#fff" />
<rect x="533.65" y="416.20" width="3.60" height="5.20" fill="#fff" />
<rect x="534.95" y="423.40" width="1.10" height="3.60" fill="#fff" />
<rect x="539.48" y="416.20" width="3.60" height="5.20" fill="#fff" />
<rect x="540.78" y="423.40" width="1.10" height="3.60" fill="#fff" />
<rect x="545.31" y="416.20" width="3.60" height="5.20" fill="#fff" />
<rect x="546.61" y="423.40" width="1.10" height="3.60" fill="#fff" />
<rect x="551.14" y="416.20" width="3.60" height="5.20" fill="#fff" />
<rect x="552.44" y="423.40" width="1.10" height="3.60" fill="#fff" />
<rect x="556.97" y="416.20" width="3.60" height="5.20" fill="#fff" />
<rect x="558.27" y="423.40" width="1.10" height="3.60" fill="#fff" />
<rect x="360.7" y="432.50" width="225.90000000000003" height="19.30" fill="#fff" stroke="#000" stroke-width="1"/>
<rect x="360.20" y="450.30" width="226.90" height="2.00" fill="#000" />
<rect x="360.20" y="435.70" width="9.40" height="1.00" fill="#000" />
<rect x="360.20" y="442.90" width="9.40" height="1.00" fill="#000" />
<rect x="579.00" y="435.70" width="8.10" height="1.00" fill="#000" />
<rect x="579.00" y="442.90" width="8.10" height="1.00" fill="#000" />
<rect x="369.00" y="432.00" width="1.00" height="19.30" fill="#000" />
<rect x="370.00" y="433.70" width="2.90" height="17.60" fill="#000" />
<rect x="578.70" y="432.00" width="0.90" height="19.30" fill="#000" />
<rect x="575.70" y="433.70" width="2.00" height="17.60" fill="#000" />
<path d="M372.9,435.40 H381.5 V444.80 H379.8 V451.30 M379.8,444.80 V442.30 H374.6 V445.30 H372.9" fill="none" stroke="#000" stroke-width="1.2"/>
<rect x="372.90" y="445.00" width="2.30" height="2.20" fill="#000" />
<path d="M575.7,435.40 H566.3 V444.80 H568.6 V451.30 M568.6,444.80 V442.30 H573.2 V445.30 H575.7" fill="none" stroke="#000" stroke-width="1.2"/>
<rect x="386.2" y="433.90" width="175.8" height="13.6" rx="1" fill="#000"/>
<rect x="387.90" y="435.40" width="2.00" height="5.20" fill="#fff" />
<rect x="389.20" y="442.60" width="1.10" height="3.60" fill="#fff" />
<rect x="393.73" y="435.40" width="3.60" height="5.20" fill="#fff" />
<rect x="395.03" y="442.60" width="1.10" height="3.60" fill="#fff" />
<rect x="399.56" y="435.40" width="3.60" height="5.20" fill="#fff" />
<rect x="400.86" y="442.60" width="1.10" height="3.60" fill="#fff" />
<rect x="405.39" y="435.40" width="3.60" height="5.20" fill="#fff" />
<rect x="406.69" y="442.60" width="1.10" height="3.60" fill="#fff" />
<rect x="411.22" y="435.40" width="3.60" height="5.20" fill="#fff" />
<rect x="412.52" y="442.60" width="1.10" height="3.60" fill="#fff" />
<rect x="417.05" y="435.40" width="3.60" height="5.20" fill="#fff" />
<rect x="418.35" y="442.60" width="1.10" height="3.60" fill="#fff" />
<rect x="422.88" y="435.40" width="3.60" height="5.20" fill="#fff" />
<rect x="424.18" y="442.60" width="1.10" height="3.60" fill="#fff" />
<rect x="428.71" y="435.40" width="3.60" height="5.20" fill="#fff" />
<rect x="430.01" y="442.60" width="1.10" height="3.60" fill="#fff" />
<rect x="434.54" y="435.40" width="3.60" height="5.20" fill="#fff" />
<rect x="435.84" y="442.60" width="1.10" height="3.60" fill="#fff" />
<rect x="440.37" y="435.40" width="3.60" height="5.20" fill="#fff" />
<rect x="441.67" y="442.60" width="1.10" height="3.60" fill="#fff" />
<rect x="446.20" y="435.40" width="3.60" height="5.20" fill="#fff" />
<rect x="447.50" y="442.60" width="1.10" height="3.60" fill="#fff" />
<rect x="452.03" y="435.40" width="3.60" height="5.20" fill="#fff" />
<rect x="453.33" y="442.60" width="1.10" height="3.60" fill="#fff" />
<rect x="457.86" y="435.40" width="3.60" height="5.20" fill="#fff" />
<rect x="459.16" y="442.60" width="1.10" height="3.60" fill="#fff" />
<rect x="463.69" y="435.40" width="3.60" height="5.20" fill="#fff" />
<rect x="464.99" y="442.60" width="1.10" height="3.60" fill="#fff" />
<rect x="469.52" y="435.40" width="3.60" height="5.20" fill="#fff" />
<rect x="470.82" y="442.60" width="1.10" height="3.60" fill="#fff" />
<rect x="475.35" y="435.40" width="3.60" height="5.20" fill="#fff" />
<rect x="476.65" y="442.60" width="1.10" height="3.60" fill="#fff" />
<rect x="481.18" y="435.40" width="3.60" height="5.20" fill="#fff" />
<rect x="482.48" y="442.60" width="1.10" height="3.60" fill="#fff" />
<rect x="487.01" y="435.40" width="3.60" height="5.20" fill="#fff" />
<rect x="488.31" y="442.60" width="1.10" height="3.60" fill="#fff" />
<rect x="492.84" y="435.40" width="3.60" height="5.20" fill="#fff" />
<rect x="494.14" y="442.60" width="1.10" height="3.60" fill="#fff" />
<rect x="498.67" y="435.40" width="3.60" height="5.20" fill="#fff" />
<rect x="499.97" y="442.60" width="1.10" height="3.60" fill="#fff" />
<rect x="504.50" y="435.40" width="3.60" height="5.20" fill="#fff" />
<rect x="505.80" y="442.60" width="1.10" height="3.60" fill="#fff" />
<rect x="510.33" y="435.40" width="3.60" height="5.20" fill="#fff" />
<rect x="511.63" y="442.60" width="1.10" height="3.60" fill="#fff" />
<rect x="516.16" y="435.40" width="3.60" height="5.20" fill="#fff" />
<rect x="517.46" y="442.60" width="1.10" height="3.60" fill="#fff" />
<rect x="521.99" y="435.40" width="3.60" height="5.20" fill="#fff" />
<rect x="523.29" y="442.60" width="1.10" height="3.60" fill="#fff" />
<rect x="527.82" y="435.40" width="3.60" height="5.20" fill="#fff" />
<rect x="529.12" y="442.60" width="1.10" height="3.60" fill="#fff" />
<rect x="533.65" y="435.40" width="3.60" height="5.20" fill="#fff" />
<rect x="534.95" y="442.60" width="1.10" height="3.60" fill="#fff" />
<rect x="539.48" y="435.40" width="3.60" height="5.20" fill="#fff" />
<rect x="540.78" y="442.60" width="1.10" height="3.60" fill="#fff" />
<rect x="545.31" y="435.40" width="3.60" height="5.20" fill="#fff" />
<rect x="546.61" y="442.60" width="1.10" height="3.60" fill="#fff" />
<rect x="551.14" y="435.40" width="3.60" height="5.20" fill="#fff" />
<rect x="552.44" y="442.60" width="1.10" height="3.60" fill="#fff" />
<rect x="556.97" y="435.40" width="3.60" height="5.20" fill="#fff" />
<rect x="558.27" y="442.60" width="1.10" height="3.60" fill="#fff" />
<rect x="360.7" y="451.80" width="225.90000000000003" height="18.70" fill="#fff" stroke="#000" stroke-width="1"/>
<rect x="360.20" y="455.00" width="9.40" height="1.00" fill="#000" />
<rect x="360.20" y="462.20" width="9.40" height="1.00" fill="#000" />
<rect x="579.00" y="455.00" width="8.10" height="1.00" fill="#000" />
<rect x="579.00" y="462.20" width="8.10" height="1.00" fill="#000" />
<rect x="369.00" y="451.30" width="1.00" height="18.70" fill="#000" />
<rect x="370.00" y="453.00" width="2.90" height="17.00" fill="#000" />
<rect x="578.70" y="451.30" width="0.90" height="18.70" fill="#000" />
<rect x="575.70" y="453.00" width="2.00" height="17.00" fill="#000" />
<path d="M372.9,454.70 H381.5 V464.10 H379.8 V470.00 M379.8,464.10 V461.60 H374.6 V464.60 H372.9" fill="none" stroke="#000" stroke-width="1.2"/>
<rect x="372.90" y="464.30" width="2.30" height="2.20" fill="#000" />
<path d="M575.7,454.70 H566.3 V464.10 H568.6 V470.00 M568.6,464.10 V461.60 H573.2 V464.60 H575.7" fill="none" stroke="#000" stroke-width="1.2"/>
<rect x="386.2" y="453.20" width="175.8" height="13.6" rx="1" fill="#000"/>
<rect x="387.90" y="454.70" width="2.00" height="5.20" fill="#fff" />
<rect x="389.20" y="461.90" width="1.10" height="3.60" fill="#fff" />
<rect x="393.73" y="454.70" width="3.60" height="5.20" fill="#fff" />
<rect x="395.03" y="461.90" width="1.10" height="3.60" fill="#fff" />
<rect x="399.56" y="454.70" width="3.60" height="5.20" fill="#fff" />
<rect x="400.86" y="461.90" width="1.10" height="3.60" fill="#fff" />
<rect x="405.39" y="454.70" width="3.60" height="5.20" fill="#fff" />
<rect x="406.69" y="461.90" width="1.10" height="3.60" fill="#fff" />
<rect x="411.22" y="454.70" width="3.60" height="5.20" fill="#fff" />
<rect x="412.52" y="461.90" width="1.10" height="3.60" fill="#fff" />
<rect x="417.05" y="454.70" width="3.60" height="5.20" fill="#fff" />
<rect x="418.35" y="461.90" width="1.10" height="3.60" fill="#fff" />
<rect x="422.88" y="454.70" width="3.60" height="5.20" fill="#fff" />
<rect x="424.18" y="461.90" width="1.10" height="3.60" fill="#fff" />
<rect x="428.71" y="454.70" width="3.60" height="5.20" fill="#fff" />
<rect x="430.01" y="461.90" width="1.10" height="3.60" fill="#fff" />
<rect x="434.54" y="454.70" width="3.60" height="5.20" fill="#fff" />
<rect x="435.84" y="461.90" width="1.10" height="3.60" fill="#fff" />
<rect x="440.37" y="454.70" width="3.60" height="5.20" fill="#fff" />
<rect x="441.67" y="461.90" width="1.10" height="3.60" fill="#fff" />
<rect x="446.20" y="454.70" width="3.60" height="5.20" fill="#fff" />
<rect x="447.50" y="461.90" width="1.10" height="3.60" fill="#fff" />
<rect x="452.03" y="454.70" width="3.60" height="5.20" fill="#fff" />
<rect x="453.33" y="461.90" width="1.10" height="3.60" fill="#fff" />
<rect x="457.86" y="454.70" width="3.60" height="5.20" fill="#fff" />
<rect x="459.16" y="461.90" width="1.10" height="3.60" fill="#fff" />
<rect x="463.69" y="454.70" width="3.60" height="5.20" fill="#fff" />
<rect x="464.99" y="461.90" width="1.10" height="3.60" fill="#fff" />
<rect x="469.52" y="454.70" width="3.60" height="5.20" fill="#fff" />
<rect x="470.82" y="461.90" width="1.10" height="3.60" fill="#fff" />
<rect x="475.35" y="454.70" width="3.60" height="5.20" fill="#fff" />
<rect x="476.65" y="461.90" width="1.10" height="3.60" fill="#fff" />
<rect x="481.18" y="454.70" width="3.60" height="5.20" fill="#fff" />
<rect x="482.48" y="461.90" width="1.10" height="3.60" fill="#fff" />
<rect x="487.01" y="454.70" width="3.60" height="5.20" fill="#fff" />
<rect x="488.31" y="461.90" width="1.10" height="3.60" fill="#fff" />
<rect x="492.84" y="454.70" width="3.60" height="5.20" fill="#fff" />
<rect x="494.14" y="461.90" width="1.10" height="3.60" fill="#fff" />
<rect x="498.67" y="454.70" width="3.60" height="5.20" fill="#fff" />
<rect x="499.97" y="461.90" width="1.10" height="3.60" fill="#fff" />
<rect x="504.50" y="454.70" width="3.60" height="5.20" fill="#fff" />
<rect x="505.80" y="461.90" width="1.10" height="3.60" fill="#fff" />
<rect x="510.33" y="454.70" width="3.60" height="5.20" fill="#fff" />
<rect x="511.63" y="461.90" width="1.10" height="3.60" fill="#fff" />
<rect x="516.16" y="454.70" width="3.60" height="5.20" fill="#fff" />
<rect x="517.46" y="461.90" width="1.10" height="3.60" fill="#fff" />
<rect x="521.99" y="454.70" width="3.60" height="5.20" fill="#fff" />
<rect x="523.29" y="461.90" width="1.10" height="3.60" fill="#fff" />
<rect x="527.82" y="454.70" width="3.60" height="5.20" fill="#fff" />
<rect x="529.12" y="461.90" width="1.10" height="3.60" fill="#fff" />
<rect x="533.65" y="454.70" width="3.60" height="5.20" fill="#fff" />
<rect x="534.95" y="461.90" width="1.10" height="3.60" fill="#fff" />
<rect x="539.48" y="454.70" width="3.60" height="5.20" fill="#fff" />
<rect x="540.78" y="461.90" width="1.10" height="3.60" fill="#fff" />
<rect x="545.31" y="454.70" width="3.60" height="5.20" fill="#fff" />
<rect x="546.61" y="461.90" width="1.10" height="3.60" fill="#fff" />
<rect x="551.14" y="454.70" width="3.60" height="5.20" fill="#fff" />
<rect x="552.44" y="461.90" width="1.10" height="3.60" fill="#fff" />
<rect x="556.97" y="454.70" width="3.60" height="5.20" fill="#fff" />
<rect x="558.27" y="461.90" width="1.10" height="3.60" fill="#fff" />
<rect x="360.7" y="473.5" width="276.7" height="14.699999999999989" fill="#fff" stroke="#000" stroke-width="1"/>
<rect x="360.20" y="475.60" width="8.40" height="1.00" fill="#000" />
<rect x="629.60" y="475.60" width="8.30" height="1.00" fill="#000" />
<rect x="360.20" y="482.00" width="8.40" height="1.00" fill="#000" />
<rect x="629.60" y="482.00" width="8.30" height="1.00" fill="#000" />
<rect x="368.00" y="473.00" width="1.00" height="15.70" fill="#000" />
<rect x="629.30" y="473.00" width="1.00" height="15.70" fill="#000" />
<rect x="370.20" y="475.00" width="1.80" height="13.70" fill="#000" />
<rect x="626.40" y="475.00" width="1.80" height="13.70" fill="#000" />
<path d="M372,476.90 H381.4 V483.40 H379.8 V487.70 M379.8,483.40 V481.20 H374.6 V484.20 H372" fill="none" stroke="#000" stroke-width="1.1"/>
<path d="M626.4,476.90 H617.2 V483.40 H619.4 V487.70 M619.4,483.40 V481.20 H624.2 V484.20 H626.4" fill="none" stroke="#000" stroke-width="1.1"/>
<rect x="383.3" y="475.0" width="231" height="11.8" rx="1" fill="#000"/>
<line x1="385.3" y1="478.7" x2="612.5" y2="478.7" stroke="#fff" stroke-width="4" stroke-dasharray="1.1 1.6"/>
<rect x="360.7" y="490.8" width="276.7" height="14.599999999999966" fill="#fff" stroke="#000" stroke-width="1"/>
<rect x="360.20" y="492.90" width="8.40" height="1.00" fill="#000" />
<rect x="629.60" y="492.90" width="8.30" height="1.00" fill="#000" />
<rect x="360.20" y="499.30" width="8.40" height="1.00" fill="#000" />
<rect x="629.60" y="499.30" width="8.30" height="1.00" fill="#000" />
<rect x="368.00" y="490.30" width="1.00" height="15.60" fill="#000" />
<rect x="629.30" y="490.30" width="1.00" height="15.60" fill="#000" />
<rect x="368.40" y="492.10" width="3.60" height="13.80" fill="#000" />
<rect x="626.40" y="492.10" width="3.60" height="13.80" fill="#000" />
<path d="M372,494.20 H381.4 V500.70 H379.8 V504.90 M379.8,500.70 V498.50 H374.6 V501.50 H372" fill="none" stroke="#000" stroke-width="1.1"/>
<path d="M626.4,494.20 H617.2 V500.70 H619.4 V504.90 M619.4,500.70 V498.50 H624.2 V501.50 H626.4" fill="none" stroke="#000" stroke-width="1.1"/>
<rect x="383.3" y="492.3" width="231" height="11.8" rx="1" fill="#000"/>
<line x1="385.3" y1="496.0" x2="612.5" y2="496.0" stroke="#fff" stroke-width="4" stroke-dasharray="1.1 1.6"/>
<rect x="444.5" y="423.7" width="59.30" height="17.80" rx="2.5" fill="#000"/>
<rect x="446" y="425.2" width="54.80" height="13.80" rx="1.5" fill="#fff"/>
<rect x="448.3" y="472.3" width="102.90" height="17.90" rx="2.5" fill="#000"/>
<rect x="449.8" y="473.8" width="98.90" height="14.10" rx="1.5" fill="#fff"/>
<rect x="463.8" y="489.5" width="70.90" height="17.60" rx="2.5" fill="#000"/>
<rect x="465.1" y="490.8" width="67.90" height="12.40" rx="1.5" fill="#fff"/>
<rect x="593.5" y="359.5" width="23.2" height="110.5" fill="#fff" stroke="#000" stroke-width="1"/>
<rect x="596.9" y="364.50" width="5.8" height="6.4" fill="#fff" stroke="#000" stroke-width="1"/>
<rect x="596.9" y="373.95" width="5.8" height="6.4" fill="#fff" stroke="#000" stroke-width="1"/>
<rect x="596.9" y="383.40" width="5.8" height="6.4" fill="#fff" stroke="#000" stroke-width="1"/>
<rect x="596.9" y="392.85" width="5.8" height="6.4" fill="#fff" stroke="#000" stroke-width="1"/>
<rect x="596.9" y="402.30" width="5.8" height="6.4" fill="#fff" stroke="#000" stroke-width="1"/>
<rect x="596.9" y="411.75" width="5.8" height="6.4" fill="#fff" stroke="#000" stroke-width="1"/>
<rect x="596.9" y="421.20" width="5.8" height="6.4" fill="#fff" stroke="#000" stroke-width="1"/>
<rect x="596.9" y="430.65" width="5.8" height="6.4" fill="#fff" stroke="#000" stroke-width="1"/>
<rect x="596.9" y="440.10" width="5.8" height="6.4" fill="#fff" stroke="#000" stroke-width="1"/>
<rect x="596.9" y="449.55" width="5.8" height="6.4" fill="#fff" stroke="#000" stroke-width="1"/>
<rect x="596.9" y="459.00" width="5.8" height="6.4" fill="#fff" stroke="#000" stroke-width="1"/>
<rect x="604.30" y="360.00" width="2.70" height="7.00" fill="#000" />
<rect x="610.50" y="361.00" width="3.50" height="5.60" fill="#000" />
<rect x="611.50" y="360.20" width="1.50" height="7.40" fill="#000" />
<rect x="604.30" y="369.42" width="2.70" height="7.00" fill="#000" />
<rect x="610.50" y="370.42" width="3.50" height="5.60" fill="#000" />
<rect x="611.50" y="369.62" width="1.50" height="7.40" fill="#000" />
<rect x="604.30" y="378.84" width="2.70" height="7.00" fill="#000" />
<rect x="610.50" y="379.84" width="3.50" height="5.60" fill="#000" />
<rect x="611.50" y="379.04" width="1.50" height="7.40" fill="#000" />
<rect x="604.30" y="388.26" width="2.70" height="7.00" fill="#000" />
<rect x="610.50" y="389.26" width="3.50" height="5.60" fill="#000" />
<rect x="611.50" y="388.46" width="1.50" height="7.40" fill="#000" />
<rect x="604.30" y="397.68" width="2.70" height="7.00" fill="#000" />
<rect x="610.50" y="398.68" width="3.50" height="5.60" fill="#000" />
<rect x="611.50" y="397.88" width="1.50" height="7.40" fill="#000" />
<rect x="604.30" y="407.10" width="2.70" height="7.00" fill="#000" />
<rect x="610.50" y="408.10" width="3.50" height="5.60" fill="#000" />
<rect x="611.50" y="407.30" width="1.50" height="7.40" fill="#000" />
<rect x="604.30" y="416.52" width="2.70" height="7.00" fill="#000" />
<rect x="610.50" y="417.52" width="3.50" height="5.60" fill="#000" />
<rect x="611.50" y="416.72" width="1.50" height="7.40" fill="#000" />
<rect x="604.30" y="425.94" width="2.70" height="7.00" fill="#000" />
<rect x="610.50" y="426.94" width="3.50" height="5.60" fill="#000" />
<rect x="611.50" y="426.14" width="1.50" height="7.40" fill="#000" />
<rect x="604.30" y="435.36" width="2.70" height="7.00" fill="#000" />
<rect x="610.50" y="436.36" width="3.50" height="5.60" fill="#000" />
<rect x="611.50" y="435.56" width="1.50" height="7.40" fill="#000" />
<rect x="604.30" y="444.78" width="2.70" height="7.00" fill="#000" />
<rect x="610.50" y="445.78" width="3.50" height="5.60" fill="#000" />
<rect x="611.50" y="444.98" width="1.50" height="7.40" fill="#000" />
<rect x="604.30" y="454.20" width="2.70" height="7.00" fill="#000" />
<rect x="610.50" y="455.20" width="3.50" height="5.60" fill="#000" />
<rect x="611.50" y="454.40" width="1.50" height="7.40" fill="#000" />
<rect x="604.30" y="463.62" width="2.70" height="6.38" fill="#000" />
<rect x="610.50" y="464.62" width="3.50" height="5.38" fill="#000" />
<rect x="611.50" y="463.82" width="1.50" height="6.18" fill="#000" />
<rect x="609.60" y="360.00" width="1.10" height="110.00" fill="#000" />
<path d="M631,362.5 H652 Q654.5,362.5 654.5,365 Q655.3,369 653.6,373 Q653.2,377 654,380 L655.2,382.3 L654,384.6 Q653.2,388 653.8,392 Q655.2,396 654.5,400 Q654.5,402.5 652,402.5 H631 Q628.5,402.5 628.5,400 Q627.7,396 629.2,392 Q629.8,388 629,384.6 L627.8,382.3 L629,380 Q629.8,377 629.4,373 Q627.7,369 628.5,365 Q628.5,362.5 631,362.5 Z" fill="none" stroke="#000" stroke-width="1" shape-rendering="auto"/>
<rect x="630.00" y="425.00" width="24.50" height="38.00" fill="#000" />
<rect x="654.20" y="420.70" width="3.80" height="45.60" fill="#000" />
<rect x="657.50" y="418.80" width="4.00" height="49.70" fill="#000" />
<rect x="628.00" y="432.00" width="2.50" height="23.60" fill="#000" />
<rect x="624.7" y="434.5" width="4" height="7.6" fill="#fff" stroke="#000" stroke-width="1"/>
<rect x="624.7" y="445.7" width="4" height="7.6" fill="#fff" stroke="#000" stroke-width="1"/>
<rect x="628.70" y="442.30" width="2.30" height="3.30" fill="#fff" />
<defs><filter id="th" x="0" y="0" width="707" height="561" filterUnits="userSpaceOnUse" color-interpolation-filters="sRGB"><feComponentTransfer><feFuncA type="discrete" tableValues="0 0 1 1 1"/></feComponentTransfer></filter></defs>
<g filter="url(#th)">
<text transform="translate(123.30,46.50) scale(0.87,1)" font-size="13" letter-spacing="0" text-anchor="middle" >B</text>
<text transform="translate(123.30,61.30) scale(0.87,1)" font-size="13" letter-spacing="0" text-anchor="middle" >A</text>
<text transform="translate(123.30,76.00) scale(0.87,1)" font-size="13" letter-spacing="0" text-anchor="middle" >N</text>
<text transform="translate(123.30,90.30) scale(0.87,1)" font-size="13" letter-spacing="0" text-anchor="middle" >K</text>
<text transform="translate(123.30,104.30) scale(0.87,1)" font-size="13" letter-spacing="0" text-anchor="middle" >0</text>
<text transform="translate(219.30,45.50) scale(0.87,1)" font-size="13" letter-spacing="0" text-anchor="middle" >B</text>
<text transform="translate(219.30,60.50) scale(0.87,1)" font-size="13" letter-spacing="0" text-anchor="middle" >A</text>
<text transform="translate(219.30,75.00) scale(0.87,1)" font-size="13" letter-spacing="0" text-anchor="middle" >N</text>
<text transform="translate(219.30,88.20) scale(0.87,1)" font-size="13" letter-spacing="0" text-anchor="middle" >K</text>
<text transform="translate(219.30,103.40) scale(0.87,1)" font-size="13" letter-spacing="0" text-anchor="middle" >1</text>
<text transform="translate(146.40,75.20) scale(0.76,1)" font-size="13" letter-spacing="1.1" text-anchor="start" textLength="58.16" lengthAdjust="spacing" >CACHE</text>
<text transform="translate(177.70,160.00) scale(0.87,1)" font-size="13" letter-spacing="1.1" text-anchor="start" textLength="25.17" lengthAdjust="spacing" >SL1</text>
<text transform="translate(177.70,203.30) scale(0.87,1)" font-size="13" letter-spacing="1.1" text-anchor="start" textLength="25.17" lengthAdjust="spacing" >SL2</text>
<text transform="translate(177.70,248.20) scale(0.87,1)" font-size="13" letter-spacing="1.1" text-anchor="start" textLength="25.17" lengthAdjust="spacing" >SL3</text>
<text transform="translate(497.50,49.80) scale(0.87,1)" font-size="12" letter-spacing="0.6" text-anchor="start" textLength="48.85" lengthAdjust="spacing" >MH2071</text>
<text transform="translate(156.60,128.00) scale(0.87,1)" font-size="13" letter-spacing="1.1" text-anchor="start" textLength="34.94" lengthAdjust="spacing" >JP13</text>
<text transform="translate(249.28,139.20) scale(0.87,1)" font-size="13" letter-spacing="1.1" text-anchor="middle" textLength="34.02" lengthAdjust="spacing" >JP27</text>
<text transform="translate(333.23,120.90) scale(0.87,1)" font-size="13" letter-spacing="1.1" text-anchor="middle" textLength="35.06" lengthAdjust="spacing" >JP28</text>
<text transform="translate(358.53,139.30) scale(0.87,1)" font-size="13" letter-spacing="1.1" text-anchor="middle" textLength="35.06" lengthAdjust="spacing" >JP29</text>
<text transform="translate(47.80,176.60) scale(0.87,1)" font-size="13" letter-spacing="1.1" text-anchor="start" textLength="15.63" lengthAdjust="spacing" >J1</text>
<text transform="translate(47.60,224.50) scale(0.87,1)" font-size="13" letter-spacing="1.1" text-anchor="start" textLength="16.32" lengthAdjust="spacing" >J2</text>
<text transform="translate(293.10,224.50) scale(0.87,1)" font-size="13" letter-spacing="1.1" text-anchor="start" textLength="34.02" lengthAdjust="spacing" >JP26</text>
<text transform="translate(593.20,224.40) scale(0.87,1)" font-size="13" letter-spacing="1.1" text-anchor="start" textLength="15.52" lengthAdjust="spacing" >J4</text>
<text transform="translate(660.60,224.40) scale(0.87,1)" font-size="13" letter-spacing="1.1" text-anchor="start" textLength="34.60" lengthAdjust="spacing" >JP33</text>
<text transform="translate(152.60,270.00) scale(0.87,1)" font-size="13" letter-spacing="1.1" text-anchor="start" textLength="34.14" lengthAdjust="spacing" >JP40</text>
<text transform="translate(112.80,289.60) scale(0.87,1)" font-size="13" letter-spacing="1.1" text-anchor="start" textLength="34.83" lengthAdjust="spacing" >JP35</text>
<text transform="translate(50.10,304.20) scale(0.87,1)" font-size="13" letter-spacing="1.1" text-anchor="start" textLength="15.40" lengthAdjust="spacing" >J3</text>
<text transform="translate(42.30,323.20) scale(0.87,1)" font-size="13" letter-spacing="1.1" text-anchor="start" textLength="25.40" lengthAdjust="spacing" >JP2</text>
<text transform="translate(116.90,322.20) scale(0.87,1)" font-size="13" letter-spacing="1.1" text-anchor="start" textLength="25.98" lengthAdjust="spacing" >JP4</text>
<text transform="translate(175.80,316.30) scale(0.87,1)" font-size="13" letter-spacing="1.1" text-anchor="start" textLength="34.14" lengthAdjust="spacing" >JP19</text>
<text transform="translate(41.00,342.30) scale(0.87,1)" font-size="13" letter-spacing="1.1" text-anchor="start" textLength="25.40" lengthAdjust="spacing" >JP3</text>
<text transform="translate(120.00,341.00) scale(0.87,1)" font-size="13" letter-spacing="1.1" text-anchor="start" textLength="33.33" lengthAdjust="spacing" >JP17</text>
<text transform="translate(39.70,381.10) scale(0.87,1)" font-size="13" letter-spacing="1.1" text-anchor="start" textLength="34.48" lengthAdjust="spacing" >JP46</text>
<text transform="translate(124.70,381.20) scale(0.87,1)" font-size="13" letter-spacing="1.1" text-anchor="start" textLength="34.25" lengthAdjust="spacing" >JP45</text>
<text transform="translate(298.70,269.90) scale(0.87,1)" font-size="13" letter-spacing="1.1" text-anchor="start" textLength="33.91" lengthAdjust="spacing" >JP34</text>
<text transform="translate(331.00,307.90) scale(0.87,1)" font-size="13" letter-spacing="1.1" text-anchor="start" textLength="27.47" lengthAdjust="spacing" >TAG</text>
<text transform="translate(432.70,293.90) scale(0.87,1)" font-size="13" letter-spacing="1.1" text-anchor="start" textLength="34.60" lengthAdjust="spacing" >JP32</text>
<text transform="translate(505.40,289.20) scale(0.87,1)" font-size="13" letter-spacing="1.1" text-anchor="start" textLength="36.21" lengthAdjust="spacing" >BIOS</text>
<text transform="translate(502.30,335.30) scale(0.87,1)" font-size="13" letter-spacing="1.1" text-anchor="start" textLength="30.11" lengthAdjust="spacing" >KBD</text>
<text transform="translate(400.70,364.00) scale(0.87,1)" font-size="13" letter-spacing="1.1" text-anchor="start" textLength="35.75" lengthAdjust="spacing" >JP41</text>
<text transform="translate(141.00,458.90) scale(0.87,1)" font-size="13" letter-spacing="1.1" text-anchor="start" textLength="30.80" lengthAdjust="spacing" >CPU</text>
<text transform="translate(33.48,429.80) scale(0.87,1)" font-size="13" letter-spacing="1.1" text-anchor="middle" textLength="26.55" lengthAdjust="spacing" >JP5</text>
<text transform="translate(100.90,428.90) scale(0.87,1)" font-size="13" letter-spacing="1.1" text-anchor="start" textLength="24.94" lengthAdjust="spacing" >JP6</text>
<text transform="translate(39.08,449.20) scale(0.87,1)" font-size="13" letter-spacing="1.1" text-anchor="middle" textLength="26.55" lengthAdjust="spacing" >JP8</text>
<text transform="translate(33.08,471.20) scale(0.87,1)" font-size="13" letter-spacing="1.1" text-anchor="middle" textLength="26.55" lengthAdjust="spacing" >JP9</text>
<text transform="translate(97.70,470.20) scale(0.87,1)" font-size="13" letter-spacing="1.1" text-anchor="start" textLength="34.48" lengthAdjust="spacing" >JP10</text>
<text transform="translate(30.23,491.20) scale(0.87,1)" font-size="13" letter-spacing="1.1" text-anchor="middle" textLength="32.41" lengthAdjust="spacing" >JP11</text>
<text transform="translate(97.70,488.30) scale(0.87,1)" font-size="13" letter-spacing="1.1" text-anchor="start" textLength="35.52" lengthAdjust="spacing" >JP12</text>
<text transform="translate(286.00,447.80) scale(0.87,1)" font-size="13" letter-spacing="1.1" text-anchor="start" textLength="31.03" lengthAdjust="spacing" >CPU</text>
<text transform="translate(214.80,370.00) scale(0.87,1)" font-size="13" letter-spacing="1.1" text-anchor="start" textLength="34.60" lengthAdjust="spacing" >JP38</text>
<text transform="translate(253.00,422.00) scale(0.87,1)" font-size="13" letter-spacing="1.1" text-anchor="start" textLength="33.56" lengthAdjust="spacing" >JP24</text>
<text transform="translate(176.60,445.00) scale(0.87,1)" font-size="13" letter-spacing="1.1" text-anchor="start" textLength="34.94" lengthAdjust="spacing" >JP25</text>
<text transform="translate(253.10,465.10) scale(0.87,1)" font-size="13" letter-spacing="1.1" text-anchor="start" textLength="34.60" lengthAdjust="spacing" >JP39</text>
<text transform="translate(175.70,485.60) scale(0.87,1)" font-size="13" letter-spacing="1.1" text-anchor="start" textLength="35.17" lengthAdjust="spacing" >JP36</text>
<text transform="translate(251.50,504.80) scale(0.87,1)" font-size="13" letter-spacing="1.1" text-anchor="start" textLength="35.29" lengthAdjust="spacing" >JP37</text>
<text transform="translate(252.00,533.10) scale(0.87,1)" font-size="13" letter-spacing="1.1" text-anchor="start" textLength="34.71" lengthAdjust="spacing" >JP43</text>
<text transform="translate(182.80,540.50) scale(0.87,1)" font-size="13" letter-spacing="1.1" text-anchor="start" textLength="35.29" lengthAdjust="spacing" >JP44</text>
<text transform="translate(450.80,436.70) scale(0.87,1)" font-size="13" letter-spacing="1.1" text-anchor="start" textLength="54.14" lengthAdjust="spacing" >BANK 0</text>
<text transform="translate(451.00,484.60) scale(0.87,1)" font-size="13" letter-spacing="1.1" text-anchor="start" textLength="112.64" lengthAdjust="spacing" >BANK 1 OR 2/3</text>
<text transform="translate(471.40,502.00) scale(0.87,1)" font-size="13" letter-spacing="1.1" text-anchor="start" textLength="71.61" lengthAdjust="spacing" >BANK 0/1</text>
</g>
</svg>
</body></html>
